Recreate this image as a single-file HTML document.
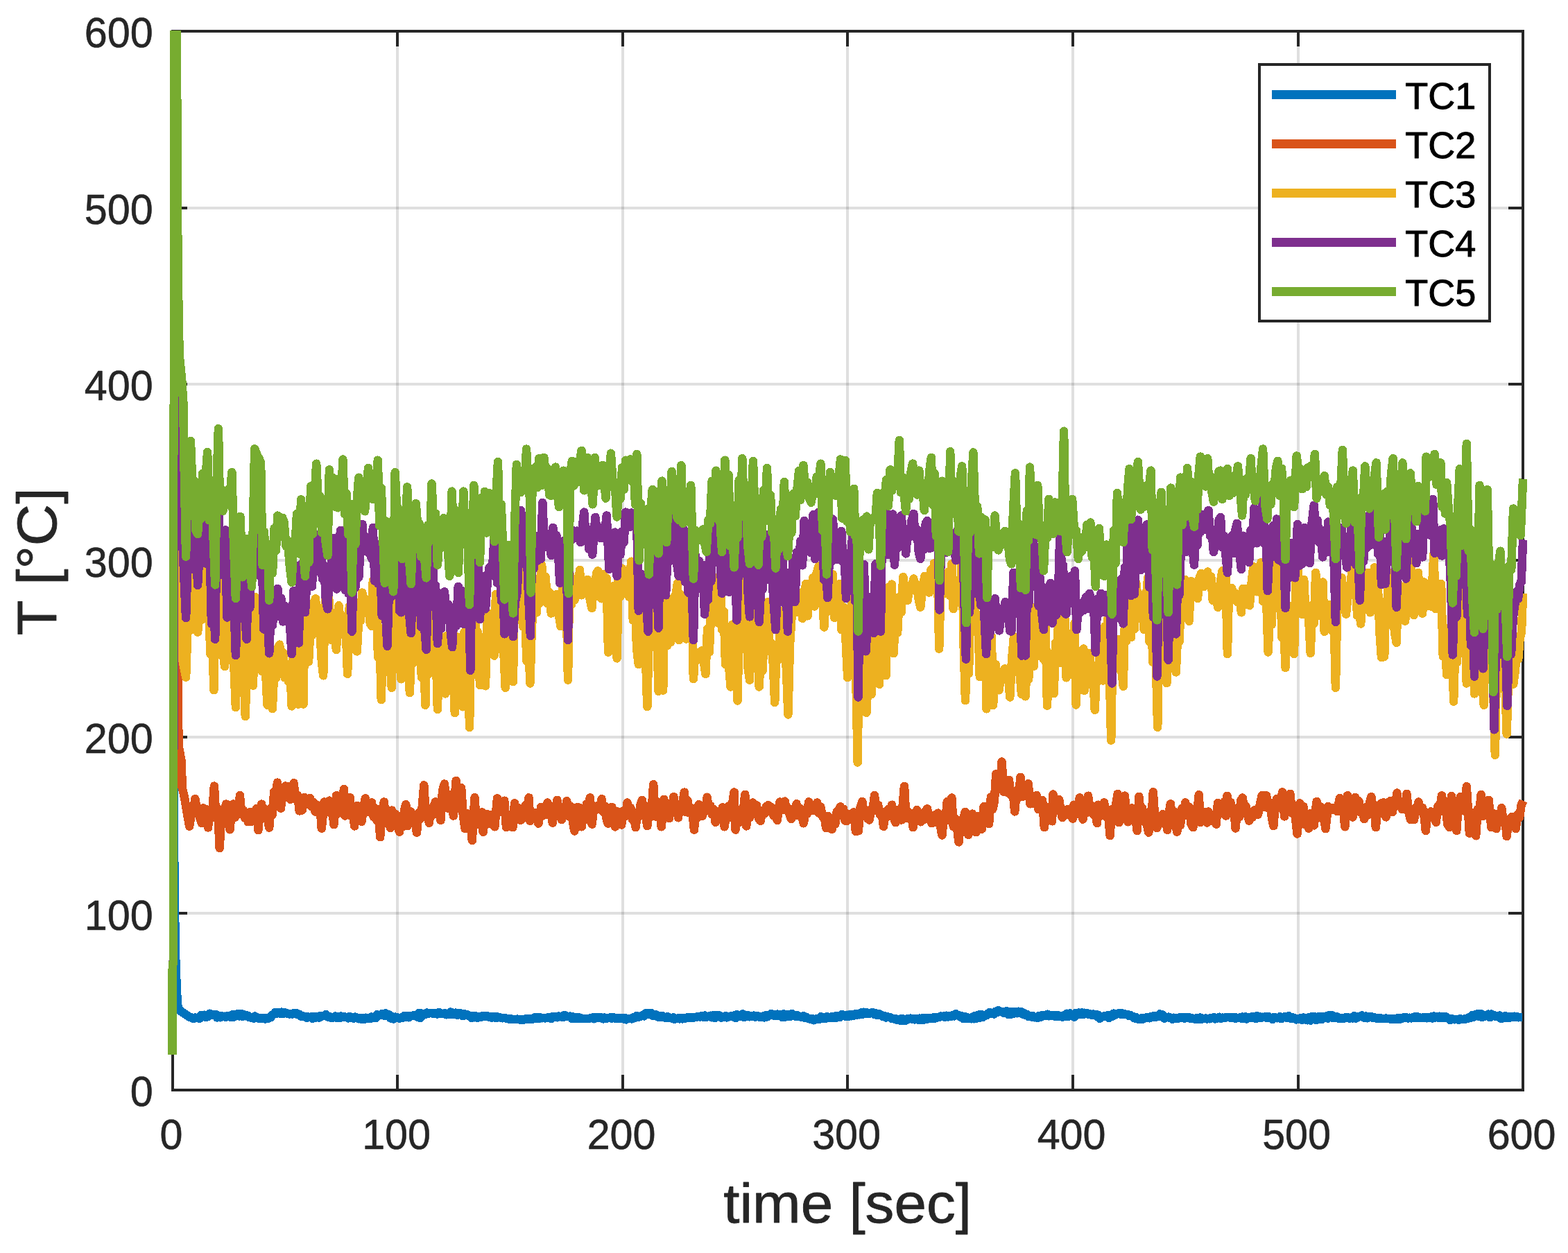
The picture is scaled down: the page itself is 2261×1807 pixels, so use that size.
<!DOCTYPE html>
<html lang="en">
<head>
<meta charset="utf-8">
<title>Thermocouple temperatures TC1-TC5 vs time</title>
<style>
html,body{margin:0;padding:0;background:#fff;}
body{width:2261px;height:1807px;overflow:hidden;}
svg{display:block;}
text{font-family:"Liberation Sans",Arial,Helvetica,sans-serif;}
.tk{font-size:61px;fill:#262626;stroke:#262626;stroke-width:0.6px;stroke-linejoin:round;}
.lb{font-size:80px;fill:#262626;stroke:#262626;stroke-width:0.8px;stroke-linejoin:round;}
.lg{font-size:54px;fill:#000;stroke:#000;stroke-width:1px;stroke-linejoin:round;}
.s{fill:none;stroke-width:12.5;stroke-linejoin:round;stroke-linecap:butt;shape-rendering:crispEdges;}
</style>
</head>
<body>
<svg width="2261" height="1807" viewBox="0 0 2261 1807">
<rect x="0" y="0" width="2261" height="1807" fill="#fff"/>

<g fill="rgba(38,38,38,0.15)" shape-rendering="crispEdges">
<rect x="571" y="47" width="4" height="1523"/>
<rect x="896" y="47" width="4" height="1523"/>
<rect x="1220" y="47" width="4" height="1523"/>
<rect x="1545" y="47" width="4" height="1523"/>
<rect x="1870" y="47" width="4" height="1523"/>
<rect x="251" y="1315" width="1943" height="4"/>
<rect x="251" y="1061" width="1943" height="4"/>
<rect x="251" y="806" width="1943" height="4"/>
<rect x="251" y="552" width="1943" height="4"/>
<rect x="251" y="298" width="1943" height="4"/>
</g>
<clipPath id="ax"><rect x="240" y="44" width="1964" height="1530"/></clipPath>
<g fill="#262626" shape-rendering="crispEdges">
<rect x="247" y="43" width="1951" height="4"/>
<rect x="247" y="1570" width="1951" height="4"/>
<rect x="247" y="43" width="4" height="1531"/>
<rect x="2194" y="43" width="4" height="1531"/>
<rect x="571" y="1550" width="4" height="20"/>
<rect x="571" y="47" width="4" height="20"/>
<rect x="896" y="1550" width="4" height="20"/>
<rect x="896" y="47" width="4" height="20"/>
<rect x="1220" y="1550" width="4" height="20"/>
<rect x="1220" y="47" width="4" height="20"/>
<rect x="1545" y="1550" width="4" height="20"/>
<rect x="1545" y="47" width="4" height="20"/>
<rect x="1870" y="1550" width="4" height="20"/>
<rect x="1870" y="47" width="4" height="20"/>
<rect x="251" y="1315" width="19" height="4"/>
<rect x="2175" y="1315" width="19" height="4"/>
<rect x="251" y="1061" width="19" height="4"/>
<rect x="2175" y="1061" width="19" height="4"/>
<rect x="251" y="806" width="19" height="4"/>
<rect x="2175" y="806" width="19" height="4"/>
<rect x="251" y="552" width="19" height="4"/>
<rect x="2175" y="552" width="19" height="4"/>
<rect x="251" y="298" width="19" height="4"/>
<rect x="2175" y="298" width="19" height="4"/>
</g>
<g clip-path="url(#ax)">
<path class="s" stroke="#0072bd" d="M248.6 1521 L248.7 1400 L250.3 1380 L250.3 1100 L250.4 1160 L251.1 1227 L251.9 1303 L252.8 1370 L253.6 1395 L254.6 1421 L255.5 1440 L256.5 1452 L260 1458 L266 1462 L272 1466 L277.7 1468.2 L279.4 1469.1 L281.2 1467.5 L282.9 1468 L285.3 1467.6 L287.8 1468.9 L290.3 1463.9 L292.2 1466.2 L294.5 1463.6 L296.8 1467.2 L298.5 1465.6 L300.5 1465.6 L302.6 1461.7 L304.9 1463.8 L307 1462.8 L308.9 1463.9 L311.2 1462.8 L312.9 1467.4 L315.1 1465.1 L317.4 1467.3 L319.4 1465.2 L321.5 1466.2 L323.7 1465.7 L325.6 1467 L327.3 1465.4 L329.1 1465.4 L331.1 1465.4 L333.2 1467.1 L335.6 1463 L337.6 1466.4 L339.4 1463.5 L341.5 1465.2 L343.2 1461.8 L345.3 1465.4 L347.5 1461.9 L349.2 1465.9 L351.6 1463.4 L353.6 1465.2 L355.3 1464.3 L357.3 1464.8 L359.1 1466.9 L361.3 1467.3 L363.2 1467.9 L365.8 1468.6 L367.5 1465.4 L369.4 1466.9 L371.9 1468 L373.6 1468.8 L376 1468.1 L378 1468.6 L380.1 1468.1 L382 1469.4 L384.4 1468 L386.7 1468.9 L388.7 1466.9 L390.6 1467 L392.6 1464 L395.1 1462.1 L396.9 1459.8 L399.4 1461.5 L401.6 1460.5 L404 1461.7 L406.1 1459.6 L408.1 1462 L410.1 1460.3 L412.4 1461 L414.8 1461.7 L417.3 1462.4 L419.5 1462 L421.7 1462.5 L423.7 1461 L425.6 1462.1 L427.5 1461.1 L429.5 1463.3 L431.5 1462.7 L433.9 1465.5 L436 1465 L437.7 1465.9 L440.1 1466 L442.4 1467.9 L444.5 1466.5 L446.3 1467 L448.6 1466.6 L450.9 1468.8 L453.1 1466 L455.4 1467.4 L457.4 1465.9 L459.9 1467.6 L462 1465.1 L463.8 1465.5 L465.5 1465.1 L467.9 1464.8 L470.1 1463.1 L472.6 1466.4 L474.6 1465.8 L477 1467.8 L479.1 1467.1 L481.4 1467.4 L483.5 1465.5 L485.7 1467.6 L488 1466.5 L489.7 1468.2 L491.5 1465.6 L493.9 1467.2 L496 1465.8 L498.3 1467 L500.5 1467.1 L502.2 1468.4 L504.2 1466.1 L506.1 1467.7 L508 1466.9 L509.8 1468.5 L512.2 1466.7 L514 1467.9 L515.7 1467.7 L517.5 1469.2 L519.3 1468 L521.4 1469.8 L523.5 1468 L525.5 1469.8 L527.7 1467.8 L529.4 1469 L531.3 1469.2 L533.7 1469.2 L535.6 1466.6 L537.4 1468 L539.9 1466.3 L541.8 1467.9 L543.7 1463.2 L545.8 1464.8 L547.5 1464.1 L549.2 1464.1 L551.1 1461.9 L553.4 1464.6 L555.8 1461.4 L558.3 1465.1 L560.6 1463.2 L563 1468.3 L565.3 1466.1 L567.5 1469.6 L569.8 1466.7 L572.1 1466.8 L573.9 1467.9 L576 1468.5 L578.3 1467.5 L580.6 1467.9 L582.8 1465.2 L584.7 1467 L587 1465.2 L589.5 1467.3 L591.6 1465.2 L593.8 1465 L595.7 1464.6 L597.8 1464.7 L600.1 1463.7 L602 1466.7 L604.1 1461.1 L605.9 1468.1 L607.6 1461.6 L610.1 1464.3 L612 1462.3 L613.8 1462.6 L615.6 1460.5 L618 1461.6 L620.1 1461.1 L622.1 1460.9 L624.1 1461.6 L626.5 1461.6 L628.7 1460.9 L630.7 1462.3 L632.9 1460 L634.8 1462.1 L636.7 1461.5 L638.8 1462.1 L641.3 1461.3 L643.5 1463.2 L645.7 1461.9 L647.7 1463 L649.7 1459.5 L651.4 1462.6 L653.4 1460.6 L655.3 1463 L657.4 1460.6 L659.3 1463.9 L661.1 1461.3 L663.2 1461.2 L665.2 1461.9 L667.3 1465.2 L669.3 1462.2 L671.3 1463.9 L673.8 1463.3 L676 1465.4 L677.9 1465.3 L680.4 1468.2 L682.1 1465.2 L684.5 1467.3 L686.2 1465.4 L688.6 1467.5 L690.5 1466.1 L692.7 1467.2 L695 1465.4 L697.1 1465.8 L699 1465.3 L700.9 1465.8 L703.1 1465.3 L705.3 1466.7 L707.1 1465.8 L709.2 1467.5 L711.6 1466 L714.1 1467.6 L715.8 1465.8 L717.8 1467.3 L720.3 1467 L722.3 1467.8 L724.6 1468.3 L726.6 1468.1 L728.9 1468.3 L731 1469.1 L733.2 1469.3 L735.1 1469.3 L736.8 1469.3 L739.2 1469.9 L741.7 1469.9 L744 1470 L746 1469.7 L747.8 1470.2 L749.8 1470.4 L751.6 1470.6 L754 1470.4 L756 1470.4 L758.4 1469.4 L760.8 1469.6 L762.5 1469.5 L764.8 1470.1 L766.8 1468.9 L768.7 1469.5 L770.6 1467.6 L773 1468.9 L774.7 1467.3 L777.2 1469 L779.1 1467.4 L781.6 1468.3 L783.9 1467.8 L786 1468.4 L788 1467.8 L790.3 1467.5 L792.5 1466.9 L794.9 1468.9 L796.7 1466 L798.9 1467.1 L801.1 1466.3 L803.5 1467.3 L805.5 1465.6 L807.8 1465.9 L809.6 1465.7 L811.5 1467.2 L813.6 1463.9 L815.8 1466.1 L818.2 1465.7 L819.9 1465.9 L822.4 1465.6 L824.4 1468.7 L826.3 1466.4 L828.1 1468.4 L830 1467.2 L831.8 1468.7 L833.7 1467 L835.9 1468.7 L837.8 1468.5 L839.5 1469.1 L841.7 1469.1 L843.9 1469.2 L845.9 1468.8 L848 1469 L850.4 1468.5 L852.3 1468.1 L854.7 1467.6 L856.7 1469.3 L858.6 1466.8 L860.8 1468.1 L862.8 1467.5 L864.9 1467.8 L867.2 1467.4 L869.7 1469.4 L871.4 1467.7 L873.9 1469 L875.7 1467.9 L878.1 1467.8 L880.1 1467.4 L881.9 1468.6 L884.3 1467 L886.6 1468.5 L888.4 1467.9 L890.6 1469.2 L892.8 1468 L894.8 1469.1 L896.9 1468 L899.3 1469.3 L901 1468.1 L902.8 1470.3 L904.5 1469.5 L906.8 1468.8 L908.8 1469 L911.4 1469.4 L913.2 1467.4 L915.7 1467.7 L918.1 1464.9 L920.5 1466.9 L922.4 1465.8 L924.8 1465.5 L926.9 1463.8 L928.7 1465.4 L931.2 1461.3 L933 1463.2 L934.9 1461.2 L937.1 1462.4 L939.3 1461.2 L941.2 1464.8 L943.2 1462.9 L945 1464.6 L946.9 1463.7 L949.1 1466.5 L950.8 1465.6 L952.8 1467 L954.6 1464.8 L956.3 1466.8 L958.1 1467.2 L960.2 1468 L962.3 1466.4 L964.2 1468.2 L966.6 1467.7 L968.5 1468.4 L970.7 1467.4 L972.7 1469.9 L974.6 1468.7 L976.6 1469.1 L978.3 1468.3 L980.1 1469.4 L982.2 1468.6 L984.1 1469.3 L985.8 1468.5 L988.1 1468.6 L990.4 1467.6 L992.4 1467.8 L994.1 1467.1 L996.4 1468.2 L998.3 1466.9 L1000.7 1467.5 L1002.9 1467 L1004.6 1466.8 L1007 1465.8 L1009.5 1466.5 L1011.7 1465 L1014.2 1466.5 L1016.4 1464.5 L1018.7 1466.7 L1020.6 1466.1 L1022.4 1466.2 L1024.4 1464.7 L1026.6 1467.3 L1028.9 1463.8 L1030.9 1467.9 L1033.3 1464.3 L1035.8 1466.1 L1037.6 1464.5 L1039.9 1467.8 L1042.1 1466 L1044.4 1466.8 L1046.5 1465.2 L1048.4 1467.4 L1050.3 1465.9 L1052.7 1465.8 L1054.8 1465 L1057.1 1466.4 L1058.8 1464.3 L1060.7 1468 L1062.3 1463.3 L1064.7 1466.2 L1066.7 1464.2 L1069.1 1465.6 L1071.2 1462.4 L1073 1467.2 L1075.3 1464 L1077.3 1465.9 L1079.1 1464.6 L1081 1466.2 L1083 1464.9 L1085.1 1465.5 L1087.3 1464.7 L1089.2 1466.5 L1091.5 1464.9 L1093.8 1466.3 L1096.2 1466.5 L1098.5 1466.6 L1100.4 1465.7 L1102.2 1467.5 L1104.5 1464.2 L1106.2 1466.4 L1108.6 1464.1 L1110.4 1463.8 L1112.4 1461.9 L1114.8 1464.3 L1117 1463.4 L1119 1465.3 L1121.1 1462.6 L1123.1 1465 L1125.5 1463.5 L1127.9 1467.2 L1130 1462.5 L1131.7 1467 L1134 1463.3 L1136 1466.1 L1138.1 1462.8 L1139.9 1465.6 L1141.9 1461.8 L1143.6 1463.9 L1146.1 1464 L1148.2 1466 L1150.4 1464.4 L1152.5 1465.6 L1154.5 1466.4 L1156.5 1466.5 L1158.5 1465.3 L1160.5 1468 L1162.4 1466.7 L1164.9 1468.5 L1166.9 1469.1 L1169.2 1470.1 L1171.4 1469.3 L1173.4 1471.2 L1175.7 1469.7 L1177.9 1470.2 L1179.9 1468.9 L1181.9 1469.6 L1183.7 1466.2 L1185.6 1469.1 L1187.7 1466.9 L1189.9 1468.9 L1192.3 1466.2 L1194.8 1468.1 L1197 1468 L1199.2 1466.5 L1201.1 1466.1 L1202.9 1468.2 L1204.7 1465.4 L1207 1467.2 L1209.4 1465.4 L1211.5 1466.8 L1213.9 1463.1 L1215.8 1465 L1217.5 1464.4 L1219.6 1465.7 L1221.3 1463.7 L1223.5 1465.7 L1225.5 1463 L1227.2 1465.3 L1228.9 1463.3 L1231.4 1464.4 L1233.5 1462.4 L1235.2 1464.3 L1237.2 1462.2 L1239.2 1463.3 L1241.1 1460.7 L1243.2 1463.2 L1245.6 1459.7 L1247.5 1462 L1249.8 1460.4 L1251.7 1461.8 L1253.9 1461.5 L1256.3 1461 L1258 1460 L1260.2 1462.5 L1262.7 1461.3 L1264.9 1463.8 L1267.1 1462 L1269.2 1463.6 L1270.9 1464.1 L1273.1 1466.2 L1275.5 1465.1 L1277.4 1467.6 L1279.4 1466.2 L1281.2 1466.9 L1283.5 1467 L1285.6 1468.7 L1287.8 1468.7 L1289.8 1469.7 L1291.7 1469.1 L1294 1470.9 L1295.7 1470 L1298 1471.6 L1299.8 1469 L1302.1 1472 L1303.9 1469.7 L1305.9 1471.5 L1308.4 1469.4 L1310.6 1469.5 L1312.9 1468.7 L1315 1469.6 L1317.2 1468.8 L1319 1470.3 L1321.2 1468.9 L1323.2 1470.4 L1325.6 1468.8 L1327.3 1470.7 L1329.7 1468.4 L1332.2 1470.6 L1334.1 1468.3 L1336.1 1469.9 L1338.5 1468.3 L1340.2 1468.9 L1342.4 1467.9 L1344.1 1469.1 L1346.5 1467.2 L1348.9 1468.4 L1351.4 1467.2 L1353.7 1467.2 L1356.2 1465.6 L1358.4 1465.9 L1360.7 1465.5 L1362.5 1466.6 L1364.4 1464.8 L1366.8 1466.3 L1369 1464.8 L1371.2 1466.1 L1373.2 1464.2 L1375.8 1465.3 L1378.1 1462.2 L1380.1 1463.6 L1382.6 1464.2 L1384.7 1466.5 L1386.8 1465.4 L1389.1 1469 L1390.9 1466 L1392.6 1468.5 L1394.6 1467.3 L1396.4 1469.1 L1398.2 1468.2 L1400.3 1469.2 L1402.6 1466.5 L1404.4 1469.3 L1406.2 1464.9 L1408.2 1468.7 L1410.6 1463.7 L1412.9 1467.5 L1414.6 1462.8 L1417.1 1467 L1419.2 1463.9 L1421.1 1464.7 L1423 1464 L1424.7 1461.9 L1427.1 1459.9 L1429.5 1461.8 L1431.3 1460.9 L1433.5 1462.5 L1435.9 1458.6 L1437.7 1460.2 L1439.8 1457.2 L1441.7 1458.7 L1444.1 1459 L1446 1460.3 L1447.8 1459 L1449.6 1461.2 L1451.5 1458 L1454 1462.9 L1455.8 1459.1 L1457.5 1462.7 L1460 1459.2 L1462 1461.7 L1464.1 1459.2 L1466.6 1461.3 L1468.4 1458.8 L1470.6 1459.7 L1472.8 1459.4 L1474.7 1462.6 L1477 1461.4 L1479.3 1463.9 L1481.1 1463.1 L1483.5 1466.2 L1485.1 1464.9 L1487.6 1466.6 L1489.5 1465.4 L1491.7 1467.3 L1493.8 1467.1 L1496.1 1467.8 L1498.4 1464.8 L1500.2 1467.1 L1502.2 1464.4 L1504.4 1465.1 L1506.2 1464.2 L1508.6 1464.4 L1510.5 1462.6 L1512.6 1465.1 L1514.4 1464.1 L1516.1 1464.7 L1518.2 1464.5 L1520 1465.4 L1521.8 1464.3 L1523.6 1465.8 L1525.6 1464.4 L1527.8 1465.6 L1530.1 1464.8 L1532.1 1466.6 L1534.6 1464 L1536.3 1466 L1538.8 1461.7 L1541 1465.6 L1542.7 1461.4 L1544.4 1464.8 L1546.7 1462.8 L1549.1 1466.6 L1550.8 1461.1 L1553.1 1463.1 L1555.5 1460.5 L1557.6 1462.7 L1559.6 1460.4 L1561.3 1463.2 L1563.5 1460.8 L1565.6 1461.8 L1567.5 1461.4 L1569.4 1462.7 L1571.8 1462.1 L1574 1463.5 L1576.1 1462.6 L1578.1 1463.5 L1580.3 1462.9 L1581.9 1465.9 L1583.8 1463.7 L1585.7 1468.9 L1588.1 1467 L1590.1 1466.4 L1592.2 1465.1 L1594.7 1465.4 L1596.6 1464.5 L1599 1468.2 L1601.3 1463.8 L1603.4 1466 L1605.9 1461.6 L1607.5 1464 L1609.6 1461.8 L1611.7 1462.2 L1613.9 1461.1 L1615.9 1462.5 L1617.9 1461.5 L1619.9 1462.9 L1622 1462.2 L1623.8 1463.1 L1625.5 1462.8 L1627.9 1464.9 L1629.8 1463.9 L1631.5 1465.4 L1633.6 1465.9 L1635.7 1468.3 L1637.8 1467.1 L1639.8 1469.4 L1642.3 1468.8 L1644 1470.1 L1646.2 1468.2 L1648.7 1469.4 L1650.9 1467.9 L1653 1467.5 L1655.5 1466.8 L1657.3 1468.4 L1659.6 1466.3 L1661.7 1466.7 L1663.8 1465.3 L1666 1467.1 L1668.5 1465 L1670.9 1465.9 L1672.5 1462.4 L1674.7 1465.1 L1676.9 1463.6 L1679 1468.7 L1681 1467.2 L1682.8 1467.1 L1685.2 1466.7 L1686.9 1468.3 L1688.8 1468 L1690.7 1469.6 L1692.8 1467.8 L1694.8 1468.9 L1697 1468.2 L1699.2 1468.6 L1701.6 1467.1 L1704 1467.9 L1706.4 1467.2 L1708.3 1468.5 L1710.2 1467.3 L1712.3 1468 L1714.3 1467.3 L1716.2 1468.8 L1718.2 1468.4 L1720.6 1468.7 L1722.5 1469.6 L1724.5 1469.7 L1726.2 1467.8 L1728 1470.1 L1730.4 1467.5 L1732.6 1469.9 L1734.5 1468.7 L1736.4 1469.2 L1738.3 1468.5 L1740.3 1469.4 L1742.1 1468.8 L1744.3 1469.3 L1746.3 1467.9 L1748.2 1468.1 L1750.6 1467.2 L1752.4 1469.4 L1754.5 1467.9 L1756.3 1468.4 L1758.2 1466.9 L1760.6 1468.9 L1762.4 1467.7 L1764.6 1467.8 L1766.8 1467.7 L1768.8 1467.1 L1771.3 1467.1 L1773 1467.3 L1774.9 1467.4 L1777.1 1468 L1779.3 1467.3 L1781.3 1468.8 L1783 1467.6 L1784.9 1468.2 L1787.1 1467.6 L1789.5 1468.4 L1791.8 1466.5 L1793.8 1469.2 L1795.7 1466.3 L1797.7 1469.5 L1800 1467.3 L1802.1 1468 L1804.1 1466.7 L1805.9 1468 L1808.3 1466 L1810.8 1469 L1812.7 1465.3 L1814.7 1468 L1816.5 1466.4 L1818.4 1467.9 L1820.4 1466.7 L1822.4 1467.1 L1824.3 1466.2 L1826.6 1467.8 L1828.8 1466.1 L1831.2 1468.3 L1833.2 1467.8 L1835 1469.9 L1836.8 1467.1 L1838.8 1467.5 L1841.3 1468.3 L1843.8 1467.8 L1845.8 1466.2 L1847.5 1469.2 L1849.7 1467.1 L1851.6 1466.5 L1854 1466.6 L1855.8 1468.1 L1858.3 1465.2 L1860.6 1468.4 L1862.5 1466.9 L1864.5 1468.9 L1866.8 1468.3 L1869 1470.3 L1871.5 1468.9 L1873.6 1470.1 L1875.8 1468.1 L1877.6 1471 L1879.3 1467.5 L1881.2 1470.3 L1883.6 1468.6 L1885.5 1471.3 L1887.5 1467 L1889.8 1471.6 L1891.6 1466.3 L1893.7 1467.5 L1895.7 1466.4 L1898.1 1471.2 L1900.6 1466.5 L1902.3 1470.2 L1904.3 1466.1 L1906.4 1469.7 L1908.3 1466.5 L1910.6 1467.5 L1912.6 1465.4 L1914.7 1468.6 L1916.5 1464 L1918.6 1467 L1920.5 1464.1 L1922.4 1468.2 L1924.3 1467.1 L1926.4 1467.6 L1928.2 1466.4 L1930.3 1468.8 L1932.1 1467.8 L1933.9 1469 L1935.7 1468.3 L1938 1468.5 L1939.7 1467.6 L1941.4 1467.9 L1943.7 1467.1 L1945.9 1468.7 L1948.4 1467.6 L1950.3 1468.4 L1952.7 1465.1 L1955 1468.6 L1956.7 1466.4 L1959.1 1466.6 L1961.3 1465.7 L1963.7 1464.5 L1965.5 1465.7 L1967.4 1467.8 L1969.2 1465.5 L1971.5 1468.3 L1973.2 1466.6 L1975.6 1466.4 L1977.9 1466.5 L1980 1467.9 L1982 1467.5 L1983.8 1468.4 L1985.9 1468.2 L1988 1469.1 L1990 1468 L1992 1468.9 L1994.5 1469 L1996.4 1469.2 L1998.3 1468.6 L2000.8 1469.1 L2003.1 1469 L2005.3 1469.8 L2007.2 1469.1 L2009.7 1470 L2012 1469.1 L2014.2 1469.6 L2016.2 1467.9 L2018.2 1470.1 L2020.2 1468.5 L2022 1468.7 L2024 1467.4 L2026 1467.9 L2027.9 1467.4 L2030.4 1468.5 L2032.5 1467.7 L2035.1 1468.3 L2037.1 1467.4 L2039.5 1468.1 L2041.2 1465.8 L2043.5 1468.1 L2045.3 1466.7 L2047.6 1468.1 L2050.1 1468.1 L2052.5 1467.3 L2054.6 1467.4 L2057.1 1468.3 L2059.4 1467 L2061.6 1467.5 L2063.3 1466.7 L2065.4 1468.5 L2067.5 1465.5 L2069.7 1467.3 L2071.9 1466.5 L2073.7 1467.4 L2075.8 1465.9 L2077.9 1468.1 L2079.9 1466 L2082.2 1468.1 L2084.1 1465.8 L2086.2 1467.5 L2088.6 1468.5 L2090.9 1470.9 L2093.4 1469.2 L2095.1 1469.6 L2097.2 1470.3 L2099.2 1470.1 L2101.7 1470.1 L2103.6 1470.7 L2105.8 1469.2 L2107.8 1470.1 L2109.6 1469.8 L2111.6 1469.7 L2113.7 1469.4 L2115.9 1468.9 L2117.8 1467.5 L2120.1 1467.9 L2122.6 1464.2 L2124.4 1466.9 L2126.3 1463.5 L2128.2 1465.3 L2130.7 1462 L2132.8 1465.8 L2135.3 1461.9 L2137.2 1466.9 L2139.1 1463.7 L2141 1465.6 L2142.7 1465.1 L2144.5 1465.3 L2146.2 1462.6 L2148.5 1467.2 L2150.2 1462.6 L2152.5 1465.2 L2154.3 1463.9 L2156.8 1466 L2158.6 1465.1 L2160.5 1466.3 L2162.6 1464.5 L2164.7 1469.2 L2166.5 1467 L2168.8 1466.8 L2170.5 1465.3 L2172.6 1468.1 L2174.3 1466.3 L2176.4 1467.8 L2178.9 1466.4 L2180.9 1467.2 L2183.4 1465.7 L2185.4 1466.8 L2187.1 1465.9 L2189 1467.3 L2190.9 1467.1 L2193.2 1467.2 L2195.2 1467.2"/>
<path class="s" stroke="#d95319" d="M248.5 1521 L248.6 1400 L250.2 1380 L250.4 600 L251.6 550 L251.7 -40 L253.5 0 L255 600 L256.6 985 L257.5 1075 L262 1100 L262.5 1135 L266 1150 L273.1 1191.7 L275.9 1174.3 L278.6 1171.1 L281.4 1152.2 L283.7 1166.4 L286 1167.3 L288.4 1180.4 L290.7 1187 L293 1165.4 L295.4 1183.8 L297.7 1167.4 L300 1193.5 L302.2 1169.4 L304.4 1175.3 L306.7 1164.7 L308.9 1133.6 L311.5 1180 L314.1 1166.1 L316.7 1223.2 L319 1175.4 L321.4 1185.9 L323.7 1170.3 L326 1159.6 L328.8 1185.9 L331.6 1196.3 L333.9 1166.3 L336.2 1159.6 L338.6 1178.8 L341 1164.4 L343.5 1174.2 L345.9 1147.2 L348.2 1172.5 L350.6 1168.3 L352.9 1179.4 L355.3 1172.6 L357.6 1185.2 L360.1 1171.3 L362.5 1184.9 L365 1170.8 L367.5 1183 L369.9 1166 L372.4 1197.2 L374.8 1168.3 L377.1 1159.6 L379.9 1178.9 L382.6 1167.1 L385.4 1178 L388.2 1193.5 L390.5 1165.8 L392.9 1174.4 L395.2 1141.9 L397.6 1161.2 L399.9 1128.6 L402.4 1156.5 L404.9 1165.7 L407.1 1145.9 L409.2 1148.4 L411.4 1133.6 L413.8 1149.6 L416.2 1133.9 L418.7 1152.7 L421.1 1137.6 L423.5 1129.3 L426.3 1152.4 L429 1146.5 L431.8 1169.4 L435.9 1168.2 L438.7 1150.1 L441.5 1160.2 L444.3 1154.7 L447.1 1151 L449.5 1163.3 L451.9 1157 L454.3 1170.4 L456.6 1160.7 L459 1171.1 L461.4 1162.2 L463.8 1194.7 L467.5 1156.5 L470 1167.5 L472.4 1162.1 L474.9 1154.7 L477.1 1173.3 L479.2 1166.9 L481.4 1189.1 L485.1 1147.3 L487.8 1172.6 L490.5 1155.3 L493.2 1168 L495.9 1138 L497.2 1176.5 L499.7 1160.7 L502.1 1168.5 L504.6 1150.1 L506.8 1177.1 L508.9 1168.2 L511.1 1191.4 L514.8 1162.1 L517 1175.5 L519.1 1168 L521.3 1184.9 L524 1165.9 L526.8 1151.4 L529.1 1170.3 L531.5 1161.7 L533.8 1171.5 L536.1 1157.5 L538.5 1177.9 L540.9 1165.9 L543.4 1183.6 L545.8 1173.6 L548.2 1207.1 L551 1170.4 L553.7 1156.5 L556 1177 L558.4 1169.3 L560.7 1187.1 L563 1194.1 L564.9 1168.6 L567.7 1184.4 L570.5 1174.3 L573.2 1191.8 L576 1199.7 L578.3 1182.9 L580.6 1192.2 L583 1168.4 L585.3 1160.3 L587.8 1190.8 L590.2 1174.8 L592.7 1170.5 L595.5 1186.3 L598.2 1182.4 L601 1200.6 L603.6 1172.4 L606.1 1180.7 L608.7 1164.4 L611.3 1132.4 L613.8 1176.1 L616.2 1164.9 L618.7 1186.7 L621 1170.7 L623.3 1175.6 L625.6 1162.3 L627.9 1156.5 L630.4 1172.4 L632.9 1169 L635.4 1183 L638.1 1139.8 L640.9 1130.6 L643.2 1155.3 L645.6 1165.4 L648.4 1146.2 L651.1 1158.6 L653.9 1176.5 L657.6 1125.9 L660.1 1153.3 L662.6 1143.2 L665.1 1136.1 L667.9 1176.3 L670.6 1195.1 L673.1 1173 L675.7 1185.6 L678.2 1179.9 L680.8 1211.8 L684.5 1150.1 L687 1189 L689.6 1172.5 L692.2 1187.7 L694.7 1171.4 L696.6 1199.7 L699.4 1178.3 L702.2 1174.2 L705 1187.8 L707.8 1175.2 L710.5 1185.6 L713.3 1192.3 L717 1151.4 L719.5 1170.6 L722.1 1162 L724.7 1171.5 L727.2 1154.7 L730 1193.2 L732.3 1174.5 L734.6 1190.1 L737 1179.3 L739.3 1193.2 L742.1 1158.4 L744.9 1175.4 L747.6 1165.1 L750.4 1183 L752.8 1168.3 L755.2 1179.5 L757.7 1161.3 L760.1 1168.4 L762.5 1150.4 L764.3 1183.9 L766.7 1171 L769.1 1179.9 L771.6 1172.7 L774 1182.1 L776.4 1187.6 L780.1 1164 L782.4 1176.4 L784.8 1165.6 L787.1 1174.9 L789.4 1157.5 L791.9 1171.9 L794.3 1167.4 L796.8 1186.7 L799 1169.8 L801.1 1170.7 L803.3 1153.8 L805.5 1173.5 L807.6 1168.7 L809.8 1182.1 L812.3 1163.6 L814.7 1171.5 L817.2 1155.2 L820 1177.1 L822.8 1162.9 L825.5 1181.7 L828.3 1198.4 L832.4 1164 L835.9 1164.9 L838.7 1192.3 L841.1 1170.3 L843.5 1182.5 L846 1159.2 L848.4 1171 L850.8 1150.4 L853.6 1188.6 L856.4 1163.6 L859.2 1166.8 L861.9 1161.8 L864.7 1167.2 L867.5 1152.3 L869.8 1170.8 L872.1 1162.4 L874.4 1180.2 L876.7 1187.6 L879.5 1172.4 L882.3 1164 L884.6 1183.2 L886.9 1192.3 L889.2 1169.9 L891.5 1184.6 L893.9 1174.9 L896.2 1189.5 L899 1169.5 L901.8 1177.1 L904.6 1157.5 L907 1175.6 L909.4 1165.2 L911.8 1181.6 L914.2 1178.4 L916.6 1193.2 L918.9 1173.9 L921.2 1178.1 L923.6 1160.4 L925.9 1153.8 L928.4 1171.4 L930.8 1173.1 L933.3 1191 L935.5 1163.3 L937.8 1178 L940 1163.8 L942.2 1131.1 L944.5 1177.4 L946.8 1155.8 L949.1 1178.4 L951.4 1169 L953.7 1192.3 L957.4 1152.8 L959.9 1170.2 L962.4 1164 L964.9 1180.2 L967.1 1165 L969.2 1164.7 L971.4 1149.1 L973.6 1163.7 L975.7 1159.6 L977.9 1179.3 L980.1 1160.8 L982.3 1167 L984.6 1155.9 L986.8 1142.6 L989.2 1171 L991.5 1154.8 L993.9 1172.4 L996.3 1164.9 L998.6 1173.7 L1001 1196.6 L1003.2 1167.1 L1005.3 1179.5 L1007.5 1160.3 L1010.3 1170.2 L1013.1 1176.5 L1015.3 1164.8 L1017.4 1166.8 L1019.6 1149.7 L1022 1167.7 L1024.4 1161.8 L1026.9 1174.7 L1029.3 1167.2 L1031.7 1185.8 L1034.2 1171.6 L1036.8 1181.2 L1039.4 1170.3 L1041.9 1164.5 L1044.6 1192.3 L1046.9 1174.4 L1049.3 1180 L1051.6 1162 L1053.9 1173.4 L1056.3 1156.9 L1058.6 1142.6 L1060.4 1196.6 L1062.7 1176.2 L1065 1186.8 L1067.3 1169.1 L1069.7 1178.9 L1072 1166.9 L1074.3 1146 L1076.2 1191.4 L1078.5 1175.8 L1080.8 1179.6 L1083.2 1162.5 L1085.5 1157.5 L1088.3 1170 L1091 1161.2 L1093.8 1180.2 L1096.6 1183.9 L1099.4 1169.7 L1102.2 1173.6 L1104.9 1163.2 L1107.7 1161.2 L1110.3 1170.4 L1112.9 1164.5 L1115.5 1176.3 L1118.1 1169.5 L1120.7 1183 L1124.4 1156.5 L1126.9 1168 L1129.3 1158.9 L1131.8 1155.6 L1134.1 1168.8 L1136.4 1165.8 L1138.8 1175.7 L1141.1 1181.2 L1143.6 1167.3 L1146 1175.8 L1148.5 1159.3 L1151 1176 L1153.6 1165.8 L1156.2 1176 L1158.7 1187.3 L1161.2 1173.2 L1163.7 1173.7 L1166.2 1156.5 L1168.4 1166.6 L1170.5 1161.5 L1172.7 1169.1 L1175.5 1161.8 L1178.2 1157.5 L1180.8 1172.5 L1183.4 1163.8 L1186 1177.6 L1188.6 1176.7 L1191.2 1194.1 L1194 1177 L1196.8 1187 L1199.6 1196 L1202 1180.8 L1204.4 1188.3 L1206.8 1170 L1209.2 1174.2 L1211.6 1163.4 L1213.9 1174.5 L1216.2 1166.7 L1218.6 1183.4 L1220.9 1183.9 L1223.5 1174.3 L1226 1181.2 L1228.5 1174.6 L1231.1 1171.4 L1233.9 1198.8 L1237.8 1198.3 L1240.5 1164.9 L1243.3 1156 L1245.9 1173.2 L1248.4 1169.2 L1251 1180.3 L1253.6 1182.5 L1256.1 1167 L1258.5 1168.6 L1261 1147.1 L1263.6 1169.2 L1266.2 1160.9 L1268.8 1174.8 L1271.4 1170.5 L1274 1191.8 L1276.4 1175.5 L1278.8 1178.4 L1281.2 1166.6 L1283.6 1174.8 L1286 1160.7 L1288.8 1179.7 L1291.6 1186.2 L1294.4 1168.6 L1297.1 1182.1 L1299.9 1182.5 L1304 1133.8 L1306.5 1179.9 L1309 1170.4 L1311.6 1179.2 L1314.1 1172.8 L1316.6 1193.2 L1319.4 1175.6 L1322.2 1168.1 L1325 1179.8 L1327.8 1185.3 L1330.1 1172.8 L1332.4 1181.8 L1334.7 1169.6 L1337 1166.2 L1339.2 1179.7 L1341.3 1176.4 L1343.5 1187.1 L1345.8 1176.5 L1348.2 1186.1 L1350.5 1174.1 L1352.8 1172.7 L1355.6 1189.3 L1358.4 1204.4 L1360.9 1180.7 L1363.3 1182.7 L1365.8 1156 L1368 1183 L1370.1 1175.8 L1372.3 1150.5 L1374.8 1192.3 L1377.4 1180.9 L1380 1193 L1382.5 1214.4 L1384.8 1188.7 L1387.2 1193.6 L1389.5 1179 L1391.8 1170.9 L1394.1 1190.9 L1396.4 1203.8 L1399.2 1185.4 L1402 1173.7 L1404.8 1192.5 L1407.5 1200.1 L1410.3 1177 L1413.1 1190.2 L1415.9 1195.5 L1418.7 1163.1 L1421.2 1175 L1423.6 1175.2 L1426.1 1188.1 L1428.9 1149.5 L1431.4 1166.8 L1433.8 1156.3 L1436.3 1116.1 L1438.6 1119.4 L1440.9 1124.7 L1443.2 1127.8 L1444.6 1098.5 L1447.2 1141.9 L1449.8 1132 L1452.3 1142.7 L1454.9 1124.9 L1457.7 1146.4 L1460.4 1140.7 L1463.2 1170.4 L1466 1140.1 L1468.7 1150.2 L1471.5 1120.8 L1474.3 1149.1 L1477.1 1135.2 L1479.9 1141.3 L1482.7 1130.1 L1485.5 1159.3 L1487.8 1150.4 L1490.1 1158.5 L1492.4 1149.2 L1494.7 1146.8 L1497.5 1167.2 L1500.3 1157.9 L1503.1 1154.2 L1505.9 1193.2 L1508.7 1164.1 L1511.5 1174.5 L1514.2 1166.3 L1517 1184.3 L1518.5 1145.5 L1521.4 1165.4 L1524.3 1154.8 L1527.2 1153.2 L1529.5 1169.2 L1531.8 1179.1 L1534.3 1169.4 L1536.8 1174.9 L1539.3 1167.2 L1541.8 1175.6 L1544.2 1169.2 L1546.7 1180.6 L1548.5 1160.7 L1551.3 1174.4 L1554.1 1163.8 L1556.9 1150.5 L1559.2 1171.2 L1561.5 1181.6 L1564 1163 L1566.5 1172.4 L1569 1147.7 L1571.6 1168.5 L1574.2 1161.7 L1576.7 1174.6 L1579.3 1171.7 L1581.9 1187.1 L1583.8 1160.7 L1586.6 1176.7 L1589.3 1168 L1592.1 1157.5 L1594.9 1178 L1597.7 1168 L1600.5 1205.1 L1603.3 1167.1 L1606 1181.1 L1608.8 1162.9 L1611.6 1144.9 L1613.5 1186.2 L1616.3 1167.7 L1619 1168.5 L1621.8 1147.7 L1624.2 1169.6 L1626.5 1185.3 L1629.2 1168 L1632 1165.3 L1634.5 1183.1 L1637.1 1177 L1639.6 1197.9 L1642.4 1148.8 L1644.7 1173.8 L1647 1165 L1649.3 1184.6 L1651.7 1175.2 L1654 1189 L1656.3 1200.6 L1658.5 1170 L1660.6 1176.6 L1662.8 1142.3 L1665.6 1184.9 L1668.4 1194.1 L1671.2 1183.2 L1673.9 1187.2 L1676.7 1174.2 L1678.9 1187.4 L1681 1179.7 L1683.2 1196.9 L1685.6 1171.8 L1687.9 1159.3 L1690.2 1181.5 L1692.6 1170.2 L1694.9 1187.6 L1697.2 1199.7 L1699.6 1181 L1702 1190.2 L1704.4 1165.5 L1706.8 1175.2 L1709.2 1157.5 L1712 1176.1 L1714.8 1164 L1717.5 1188.6 L1720.3 1193.2 L1723.1 1166.6 L1725.9 1176.4 L1728.7 1146.3 L1731 1185.9 L1733.3 1171.8 L1735.7 1182.4 L1738 1171.4 L1740.3 1186.5 L1742.6 1170.5 L1745.4 1183.6 L1748.2 1176.1 L1750.9 1182.6 L1753.7 1188.6 L1756 1158.2 L1758.4 1173.7 L1760.7 1161.7 L1763 1171.2 L1765.4 1156.3 L1767.7 1176.5 L1769.5 1147.8 L1771.9 1168.7 L1774.3 1156.8 L1776.8 1173.4 L1779.2 1166.6 L1781.6 1194.5 L1784.1 1165.6 L1786.7 1178.4 L1789.2 1154.8 L1791.8 1150.6 L1794.1 1169 L1796.4 1162.6 L1798.7 1173.4 L1801 1183.6 L1803.5 1172.5 L1806 1178.8 L1808.5 1168.6 L1811.2 1173.5 L1814 1174.7 L1816.8 1160.4 L1819.6 1147.3 L1821.8 1164 L1823.9 1147.5 L1826.1 1147.3 L1828.6 1165.5 L1831.2 1157.8 L1833.8 1178.4 L1836.3 1191 L1838.6 1165.4 L1840.9 1151.9 L1843.7 1164.8 L1846.5 1155.3 L1849.3 1142.3 L1852.1 1177.4 L1854.9 1156.8 L1857.6 1162.2 L1860.4 1144.9 L1863 1172.7 L1865.5 1161.5 L1868 1179.8 L1870.6 1202.5 L1874.3 1158.4 L1876.9 1175 L1879.5 1163.3 L1882.1 1189.1 L1884.7 1178.3 L1887.3 1194.7 L1889.8 1172.8 L1892.2 1188.4 L1894.7 1190.4 L1898.5 1156 L1901.1 1172.5 L1903.7 1163.1 L1906.2 1180.4 L1908.8 1176 L1911.4 1195.1 L1915.1 1163 L1917.7 1167.9 L1920.3 1165.1 L1922.9 1168.2 L1925.5 1165 L1928.1 1170 L1931.8 1151 L1934.3 1170.9 L1936.8 1164.3 L1939.3 1192.3 L1943 1147.3 L1945.5 1164 L1947.9 1160.9 L1950.4 1178.4 L1954.1 1150.1 L1956.7 1166.1 L1959.3 1155.3 L1961.9 1171.5 L1964.5 1165.5 L1967.1 1181.2 L1969.6 1164.1 L1972.2 1175.4 L1974.8 1158.2 L1977.3 1149.1 L1979.5 1168 L1981.6 1160.6 L1983.8 1193.2 L1986.6 1165.4 L1989.3 1172.9 L1992.1 1158.3 L1994.9 1157.5 L1998.6 1178.4 L2000.9 1157.5 L2003.2 1169.4 L2005.6 1154.8 L2007.9 1170.9 L2010.1 1158 L2012.2 1161.6 L2014.4 1143.6 L2016.9 1161.8 L2019.3 1155.5 L2021.8 1167.2 L2024 1160.8 L2026.1 1165.7 L2028.3 1144.9 L2031.1 1170.2 L2033.9 1182.1 L2036.5 1170.9 L2039.1 1182.1 L2041.3 1164.9 L2043.4 1170 L2045.6 1156.5 L2048.2 1169.7 L2050.7 1164.5 L2053.2 1172.8 L2055.8 1197.9 L2058.3 1173.5 L2060.7 1178 L2063.2 1170.5 L2065.7 1179.4 L2068.1 1173.7 L2070.6 1185.8 L2073.4 1162.6 L2076.2 1166.4 L2079 1147.3 L2081.8 1170.7 L2084.6 1163.3 L2087.3 1188.8 L2090.1 1193.2 L2092.9 1148.2 L2095.4 1175.9 L2097.8 1171.2 L2100.3 1197.9 L2103.1 1157.7 L2105.9 1149.1 L2108.1 1169.2 L2110.4 1158 L2112.6 1170 L2114.8 1134.3 L2118.9 1201.6 L2121.2 1171.7 L2123.6 1191.6 L2125.9 1179.7 L2128.2 1205.3 L2130.7 1167 L2133.1 1174.5 L2135.6 1146 L2138.4 1176.9 L2141.1 1163.9 L2143.9 1173.7 L2146.7 1153.8 L2150.4 1193.2 L2152.9 1172.7 L2155.3 1191.1 L2157.8 1195.1 L2160.3 1175.7 L2162.8 1179.6 L2165.3 1165.3 L2167.8 1186.2 L2170.2 1181.2 L2172.7 1206.2 L2175.2 1183.6 L2177.6 1186.8 L2180.1 1177.9 L2182.9 1186.6 L2185.7 1195.1 L2188.4 1174.5 L2191.1 1178.9 L2193.7 1160.9 L2196.4 1154.9"/>
<path class="s" stroke="#edb120" d="M248.5 1521 L248.6 1400 L250.2 1380 L250.4 600 L251.6 550 L251.7 -50 L253.8 0 L255.3 500 L257 700 L259.5 850 L263 950 L268.1 976.7 L271 889.7 L273.9 909.3 L276.8 815.5 L279.6 875.9 L282.3 854.9 L285.1 911.7 L287.8 873.2 L290.5 893.9 L293.2 847.9 L295.9 822 L298.4 887.5 L300.9 863.9 L303.4 943.6 L305.9 911.5 L308.4 995.2 L310.6 881 L312.7 905.1 L314.9 734.2 L317.2 893.4 L319.5 868.1 L321.8 942.6 L324.1 960.9 L326.9 914.5 L329.7 899.1 L332.2 950 L334.8 930.4 L337.3 958.2 L339.9 1020.3 L342.1 928.9 L344.2 955.5 L346.4 860.9 L348.9 943.3 L351.3 930 L353.8 1033.3 L356.6 918.4 L359.4 968.8 L362.2 906.7 L365 988.7 L367.6 860.8 L370.2 925.7 L372.8 900.4 L375.4 936.3 L378 968.3 L380.5 866.1 L382.9 963.7 L385.4 1016.6 L387.9 938.4 L390.3 977.4 L392.8 1022.2 L395.4 965.6 L398 978 L400.5 935.6 L403.1 929.7 L405.6 955 L408.1 941.2 L410.6 977.3 L413.2 957.5 L415.7 982.3 L418.2 963.4 L420.7 1018.4 L423 905.9 L425.4 1010 L427.7 937.7 L430 1015.7 L432.5 929.2 L435 976.5 L437.5 1015.5 L440 849.9 L442.5 915.3 L445 954.4 L447.5 908.3 L450 916.2 L452.5 869.1 L455 863.3 L457.8 907.2 L460.6 887.8 L463.4 948.7 L466.2 974.3 L468.9 865.7 L471.5 918.6 L474.2 862.3 L476.9 922.6 L479.6 883.7 L482.2 915.4 L484.9 936.9 L488.6 873.3 L491.1 905.3 L493.6 888.7 L496.1 916.2 L498.6 901.9 L501.1 971.8 L503.8 874.5 L506.6 935.9 L509.3 871.9 L512.1 927 L514.8 939.4 L517.3 890.5 L519.8 895.5 L522.3 854.6 L524.6 877.7 L526.9 863.8 L529.2 884.2 L531.5 877.3 L533.8 899.5 L536.1 903.2 L537.8 837.1 L540.2 893.1 L542.6 853 L545 947.6 L547.4 919.4 L549.8 1009.3 L552.3 906.1 L554.8 969.4 L557.3 914.7 L559.8 963.2 L562.3 929 L564.8 991.8 L567.2 883.8 L569.7 797.2 L571.9 889.2 L574.1 837.9 L576.3 952.3 L578.5 979.3 L581 910.8 L583.5 952.1 L585.9 882.7 L588.4 946.4 L590.9 999.3 L593.1 927.8 L595.3 956.9 L597.5 852.5 L599.7 842.1 L602.4 920.7 L605.2 889.4 L607.9 977.1 L610.7 939.9 L613.4 1016.8 L615.7 912.6 L618 972 L620.3 873.8 L622.6 813.4 L625.4 946.5 L628.1 916.6 L630.9 1023 L633.7 914.9 L636.5 978.6 L639.3 926.7 L642.1 1000.5 L644.8 916.6 L647.6 987.8 L650.3 897 L653.1 959.1 L655.8 1028 L658.1 917.7 L660.3 1000.5 L662.6 932.3 L664.8 983.4 L667.1 1019.3 L669.6 911.2 L672 1007.8 L674.5 910.6 L677 1049.2 L679.1 931.7 L681.2 958.6 L683.3 815.9 L686.2 914.5 L689.1 911.6 L692 988.1 L694.7 918.7 L697.3 949.9 L700 989.3 L702.5 886.1 L705 923.2 L707.5 885.2 L710 938.5 L712.5 945.6 L715 857.1 L717.7 903.9 L720.5 867.9 L723.2 937.1 L726 932.5 L728.7 991.8 L731.5 920.3 L734.3 954.7 L737.1 895.3 L739.9 983.1 L742.5 826.1 L745.1 880.1 L747.8 836.6 L750.4 885.7 L751.9 819.6 L754.4 903.8 L756.9 876.6 L759.4 953.4 L761.9 919.5 L764.4 985.6 L766.8 905.2 L769.2 870.3 L771.6 855.8 L773.9 883.4 L776.3 835 L778.7 869.6 L781.1 814.7 L783.8 844.9 L786.6 831.7 L789.3 870.3 L792.1 854.2 L794.8 884.5 L797.3 866.9 L799.8 869.2 L802.3 857.1 L805.4 883.9 L808.5 903.2 L811.1 848.7 L813.8 870.9 L816.4 853 L819 980.6 L821.4 826.8 L823.9 872.1 L826.3 835.5 L828.7 865 L831.1 835.1 L833.6 855.5 L836 822.1 L838.5 858.3 L841.4 841 L844.3 846.9 L847.2 835.9 L850.3 862.3 L853.4 877 L855.6 849.3 L857.8 857.3 L860 827.2 L862.2 823.4 L864.7 854.8 L867.2 863.3 L869.7 828.4 L872.2 855.6 L874.6 833.7 L877.1 940.6 L879.6 846 L882.1 873.1 L884.6 845.2 L887.1 913.8 L889.6 949.4 L892.1 816.4 L894.6 860.4 L897.1 820 L899.6 844.1 L902.1 831.8 L904.6 854.1 L907.1 860.8 L910.1 809.7 L912.8 894.6 L915.5 847.9 L918.1 935.5 L920.8 958.1 L923.3 859.5 L925.8 927.5 L928.3 890.7 L930.8 941 L933.3 1019.2 L935.8 910.3 L938.3 923.9 L940.8 822.1 L943.7 933 L946.6 883.8 L949.5 996.8 L951.7 910.4 L954 963.5 L956.2 995.6 L958.3 839.7 L960.4 926.1 L962.5 930.7 L964.9 893.8 L967.3 926 L969.8 862.9 L972.2 894.1 L974.6 857.1 L977 840.9 L979.2 923.2 L981.8 857.9 L984.4 897.8 L987 862.3 L989.5 921.6 L992.1 866.8 L994.7 904.7 L997.3 853.4 L999.9 979.3 L1002.4 940.7 L1004.9 952.4 L1007.4 941 L1009.9 948.8 L1012.4 938.2 L1014.9 953.9 L1017.4 971.8 L1020.1 906.8 L1022.8 940.5 L1025.5 874.3 L1028.2 897 L1030.9 850.5 L1033.6 833.4 L1036.1 898.6 L1038.6 843.3 L1041.1 908.3 L1043.6 881.3 L1046.1 958.3 L1048.6 925.4 L1051.1 961.3 L1053.6 990.6 L1056.1 900.6 L1058.5 985.9 L1061 934.3 L1063.5 1010.5 L1065.8 896.9 L1068 914.9 L1070.3 777.2 L1073 891.7 L1075.7 865.8 L1078.3 961.2 L1081 980.6 L1083.5 883.1 L1086 781 L1088.9 904.1 L1091.8 875.6 L1094.7 990.6 L1097.2 933.5 L1099.7 967.2 L1102.2 894.4 L1104.7 914.5 L1107.2 868.3 L1109.7 934 L1112.2 927.6 L1114.7 955.6 L1117.2 1013 L1119.7 931 L1122.2 951.6 L1124.7 907.1 L1127.2 880.8 L1129.5 943.4 L1131.8 927.4 L1134.1 968.8 L1136.4 1030.5 L1139 929.8 L1141.5 890.4 L1144.1 846.2 L1146.7 882.9 L1149.2 859.3 L1151.8 878.7 L1154.4 854.7 L1157 891.8 L1159.5 861.7 L1162.1 842.1 L1164.6 888.3 L1167.1 855.6 L1169.6 857.1 L1172.1 833.4 L1174.6 874.5 L1177.7 826.3 L1180.8 815.9 L1183.3 858.7 L1185.8 852.9 L1188.3 904.5 L1190.8 862.2 L1193.3 882 L1195.8 846.8 L1198.3 862.6 L1200.8 828.4 L1203.3 890.8 L1205.8 847.4 L1208.3 873.1 L1210.8 842 L1213.3 908.2 L1216.2 875.7 L1219.2 915.5 L1222.2 977.2 L1224.5 894.4 L1226.7 914.1 L1229 849.4 L1231.2 820.8 L1234 961.3 L1236.7 1099.6 L1239.2 882.4 L1241.8 981.2 L1244.3 883.8 L1246.9 967.7 L1249.4 1027.8 L1252.4 963.1 L1256.6 1001.3 L1259.5 903.1 L1262.4 871.4 L1265.2 964.2 L1268.1 986.8 L1270.5 884 L1272.9 952.8 L1275.3 880.6 L1277.7 974.2 L1280.4 847.3 L1283.2 911.3 L1285.9 842.6 L1288.6 942.2 L1291.3 884.2 L1294.1 912.6 L1296.8 861.3 L1299.6 882.8 L1302.3 832.1 L1304.4 847.8 L1306.5 852 L1308.6 865.7 L1311.5 845.7 L1314.4 850.6 L1317.3 834.6 L1319.8 852.1 L1322.3 843.3 L1324.8 865 L1327.3 875.7 L1330.4 846.1 L1333.5 830.8 L1335.6 842.5 L1337.7 837.9 L1339.8 854.5 L1342.2 822 L1344.6 842.4 L1347 812.3 L1349.4 841.6 L1351.8 813.3 L1354.2 935.6 L1356.8 837 L1359.3 856.8 L1361.9 837.1 L1364.5 852 L1367.1 825.1 L1369.6 858.8 L1372.2 813.4 L1374.7 878.2 L1377.2 836.7 L1379.7 868.8 L1382.2 850.4 L1384.7 865 L1387.2 788.4 L1389.6 929.6 L1392 1010.3 L1394.5 920 L1397 971.3 L1399.6 857.2 L1402.1 898.4 L1404.6 830.8 L1407.3 911.5 L1410.1 887.4 L1412.8 976 L1415.2 898.4 L1417.6 966 L1420 872.3 L1422.4 1022.4 L1424.8 929.6 L1427.2 972.6 L1429.7 917.6 L1432.1 1017 L1435.7 958.3 L1438.1 981.3 L1440.5 995.3 L1443.3 975.2 L1446.2 978.1 L1449 964.3 L1451.4 981 L1453.8 971.1 L1456.2 1005.5 L1459.1 951 L1462 918.1 L1464.8 950.4 L1467.5 944.8 L1470.3 969.6 L1473.1 1001.3 L1475.8 922.9 L1478.6 1004.4 L1480.9 949.9 L1483.2 979.9 L1485.4 910.7 L1487.7 931.6 L1490 875.7 L1490.7 961 L1493.1 877.6 L1495.5 946.3 L1497.9 887.7 L1500.3 945.6 L1502.8 890.3 L1505.2 950.9 L1507.6 903.3 L1510 1017.7 L1512.5 946.9 L1514.9 943.1 L1517.2 957.8 L1519.6 1000.2 L1522.2 926.9 L1524.8 931.7 L1527.4 863.3 L1528.1 956.2 L1530.5 889.2 L1532.9 931.4 L1535.3 891 L1537.7 977.3 L1540 914.1 L1542.3 973.3 L1544.7 916 L1547 965.3 L1549.3 899.2 L1551.6 1016.5 L1554.3 950.5 L1556.9 970.3 L1559.6 947.1 L1562.3 935.6 L1563.6 996 L1566.1 958.9 L1568.6 964 L1571.1 941.9 L1573.6 987.3 L1576.2 975 L1578.7 1023.7 L1581.5 959.5 L1584.2 972.2 L1587 918.3 L1589.8 915.7 L1590.8 981.5 L1593.1 903.5 L1595.4 974.8 L1597.6 891.3 L1599.9 973.1 L1602.2 1067.7 L1604.5 926.9 L1606.7 953.8 L1609 932.1 L1611.2 964.1 L1613.5 921.9 L1616.6 961.5 L1619.7 989.7 L1621.9 900.8 L1624.1 925.1 L1626.3 845.9 L1628.5 792.1 L1631 919.3 L1633.5 842.9 L1635.9 907.2 L1638.4 840.8 L1640.7 867.2 L1642.9 857.2 L1645.2 889.1 L1647.4 875.9 L1649.7 908.1 L1652.5 865.6 L1655.2 833.3 L1657.5 925.4 L1659.9 855.2 L1662.2 954.6 L1664.5 911.9 L1666.9 957.5 L1669.2 1048.8 L1671.9 882.7 L1674.6 825.8 L1677.2 915.3 L1679.8 882.1 L1682.4 985.1 L1685.1 891.5 L1687.7 946.5 L1690.4 885 L1693 945.5 L1695.7 969.4 L1698.2 916.4 L1700.7 924.9 L1703.3 841.9 L1705.8 871.2 L1708.3 835.8 L1711.4 871.4 L1714.5 895.7 L1717.5 838.3 L1719.9 848.2 L1722.2 848.1 L1724.6 860.3 L1727 863.2 L1729.5 833.5 L1732 827.1 L1736.2 845.8 L1738.7 829.4 L1741.2 824.6 L1743.7 841.6 L1746.2 831.3 L1748.7 865.8 L1751.2 851.5 L1753.7 862.4 L1756.2 875.8 L1759.3 843 L1762.4 823.4 L1764.9 859.3 L1767.4 830.2 L1769.9 943.1 L1772 851.5 L1774.1 866.9 L1776.2 848.3 L1778.9 865.2 L1781.7 855.9 L1784.4 868.3 L1787.2 858.6 L1789.9 883.3 L1792.3 848.9 L1794.7 870.5 L1797.1 849.3 L1799.5 871.3 L1801.9 873.3 L1804.7 839.7 L1807.4 817.2 L1809.9 840.9 L1812.4 853.3 L1815.5 825.9 L1818.6 810.9 L1821.1 867 L1823.6 834.2 L1826.1 863.1 L1828.6 940.6 L1831.1 880.9 L1833.6 900.7 L1836 834.9 L1838.5 873.6 L1841 813.4 L1843.5 875.2 L1846 831.3 L1848.5 919.6 L1851 894.7 L1853.5 963.1 L1856 877.9 L1858.5 933 L1861 873.9 L1863.5 920 L1866 943.1 L1868.5 841.5 L1871 814 L1874.1 867.2 L1877.2 885.7 L1880.2 835.9 L1882.6 886.5 L1885 873.3 L1887.3 894.6 L1889.7 941.9 L1892.2 872.6 L1894.7 899.2 L1897.2 825.9 L1900.9 888.2 L1903.1 848.2 L1905.3 872 L1907.5 839.5 L1909.7 910.7 L1912.4 876.4 L1915.1 907 L1917.8 872 L1920.5 909.7 L1923.2 875.4 L1925.9 991.8 L1928.8 845.6 L1931.7 871.4 L1934.6 833.4 L1936.7 860.2 L1938.8 863.7 L1940.9 885.7 L1943.8 858.4 L1946.7 849 L1949.6 822.1 L1952.1 848.4 L1954.6 836.6 L1957.1 887.8 L1959.6 869.4 L1962.1 899.5 L1964.6 867.7 L1967 868.9 L1969.5 829.4 L1972 825.9 L1975.8 883.3 L1978.9 842.7 L1982 818.4 L1984.5 879.2 L1987 849.8 L1989.5 912.9 L1992 948.1 L1996.2 946.9 L1998.3 867 L2000.4 890.4 L2002.5 825.9 L2005.3 881.9 L2008.1 861.8 L2010.9 911.6 L2013.7 926.9 L2016.2 841.3 L2018.7 885 L2021.2 863.8 L2023.7 877.5 L2026.2 895.7 L2028.7 840.6 L2031.2 862.8 L2033.7 798.4 L2036.2 856 L2038.7 887 L2041.8 848.8 L2044.9 825.9 L2048 870.7 L2051.1 884.5 L2053.6 839.4 L2056.1 874.3 L2058.6 847.6 L2061.1 860.9 L2063.6 874.5 L2067.4 798.4 L2070.1 878.3 L2072.7 843.5 L2075.4 867.2 L2078.1 841.9 L2080.8 946.6 L2083.4 905.4 L2086.1 973.1 L2088.6 907.6 L2091.1 938.8 L2093.6 897.7 L2096.1 1011.7 L2098.6 923.1 L2101.1 955.3 L2103.5 846.6 L2106 900.4 L2108.5 823.4 L2110.6 910.7 L2112.7 896.4 L2114.8 985.5 L2117.6 924.2 L2120.4 982.8 L2123.2 877.9 L2126 1000.5 L2128.5 905.3 L2131 904.2 L2133.5 815.9 L2136.6 975.4 L2139.7 1016.7 L2142.2 882.3 L2144.7 822.1 L2147.5 971.2 L2150.3 913 L2153.1 990.3 L2155.9 1088.8 L2158.4 937.8 L2160.9 962.2 L2163.4 910.7 L2165.7 985.2 L2168.1 946.4 L2170.4 988.3 L2172.7 1058.6 L2175.1 973.4 L2177.5 987.1 L2179.8 976.1 L2182.2 986.7 L2184.6 969.3 L2186.9 942.6 L2189.2 950.4 L2191.6 920.9 L2193.9 911.9 L2196.1 855.8"/>
<path class="s" stroke="#7e2f8e" d="M248.5 1521 L248.6 1400 L250.2 1380 L250.4 600 L251.6 550 L251.7 -60 L254 0 L255.5 420 L257.5 600 L260 700 L264 800 L268.1 891.2 L271 798.4 L273.9 821.4 L276.8 724.1 L279.6 801.2 L282.3 770 L285.1 843.9 L287.5 798.7 L289.9 813.3 L292.4 763.8 L294.8 784.5 L297.2 750.1 L299.8 814.2 L302.4 785.4 L305 899.5 L307.6 850 L310.2 921.9 L312.5 779.1 L314.9 676.2 L317.4 828.7 L319.9 785.7 L322.4 825.9 L324.9 764.4 L327.4 890.6 L329.9 795.4 L332.4 855.8 L334.9 805.3 L337.4 867.8 L339.9 945.1 L342.1 869.6 L344.2 863.7 L346.4 802.9 L348.7 861.6 L351 852.9 L353.4 892.8 L355.7 921.9 L358 824.3 L360.3 876.9 L362.6 800.2 L364.9 811.8 L367.2 705.4 L369.8 818.6 L372.4 771.4 L375.1 831 L377.7 800.9 L380.3 907.5 L382.9 824.6 L385.6 885.8 L388.2 942.3 L390.6 882.9 L393 901.7 L395.5 868.4 L397.9 885.2 L400.3 849 L402.9 889 L405.4 862.8 L407.9 896.4 L410.5 873.6 L413.1 895.4 L415.6 879.5 L418.1 902.3 L420.7 943.2 L423.2 852.3 L425.8 900.4 L428.3 857.9 L430.9 927.5 L433.2 814.5 L435.4 843.7 L437.7 809 L440 883.3 L442.5 832.3 L445 845.6 L447.5 818.6 L450 845.7 L452.5 786 L455 824 L457.5 771 L460 811.6 L462.5 780.5 L464.9 834.9 L467.4 815.5 L469.9 865.7 L472.4 878.3 L474.6 831 L476.8 835.5 L479 786.3 L481.2 776 L483.4 818.6 L485.7 849.6 L488.4 793.2 L491.1 764.8 L493.4 811.5 L495.8 776.2 L498.1 851.5 L500.4 821.3 L502.7 856.2 L505.1 821.1 L507.4 910.7 L509.9 825.7 L512.4 847.4 L514.8 782.5 L517.3 832.9 L519.8 787.4 L522.3 756 L524.6 784.2 L526.9 774.2 L529.2 795.9 L531.5 783.8 L533.8 798.8 L536.1 805.9 L537.8 761 L540.4 837.8 L543 785 L545.6 842.1 L548.1 811 L550.7 888 L553.3 847.1 L555.9 882.1 L558.5 931.9 L561.3 834.7 L564.1 860.8 L566.9 785.5 L569.7 739.2 L571.9 812.7 L574.1 794.5 L576.3 881.4 L578.5 883.3 L581.4 804.1 L584.3 822.9 L587.2 760.4 L590 884.9 L592.7 913.2 L595 848.7 L597.4 838.2 L599.7 784.1 L602.2 843 L604.7 810.9 L607.2 904.3 L609.7 838 L612.2 905.8 L614.7 936.9 L617.3 844.6 L620 847.7 L622.6 755.4 L625.4 852.9 L628.1 844.7 L630.9 928.2 L633.4 887.5 L635.9 906.7 L638.4 863.1 L640.9 853.4 L643.7 882.5 L646.5 871.9 L649.3 906 L652.1 933.2 L655 877.3 L657.9 902.5 L660.8 845.9 L663.3 886 L665.8 851.6 L668.3 899.7 L670.8 876.3 L673.3 896.9 L675.8 850 L678.3 966.9 L680.8 810 L683.3 757.9 L686.2 845 L689.1 805.8 L692 893.3 L694.7 831 L697.3 876.5 L700 878.3 L702.8 839.4 L705.5 818.4 L709.5 829.6 L713 768.5 L717 840.8 L721 829.6 L723.1 867.2 L725.3 840.1 L727.4 914.4 L729.9 837.6 L732.4 871.5 L734.9 852 L737.4 895.4 L739.9 918.2 L742.8 868.1 L745.7 854.6 L748.4 792.7 L751.1 736.1 L754.4 783.4 L756.8 780.8 L759.1 779.7 L762 857.5 L764.9 916.9 L767.4 777.7 L769.9 819.8 L772.4 773.2 L774.8 808.9 L777.3 772.6 L779.8 806 L782.3 724.8 L784.8 781.9 L787.3 769.6 L789.8 789.6 L792.3 774.6 L794.8 800.9 L797.3 761 L799.8 785 L802.3 772.1 L804.8 794.2 L807.3 840.8 L809.6 782.7 L812 797.8 L814.3 779.1 L816.7 796.8 L819 923.2 L821.6 760.4 L824.2 778.7 L826.8 765.4 L829.4 772.4 L832 765.6 L834.6 773.6 L837.2 782.2 L839.7 760.8 L842.2 738.6 L844.6 773.4 L847 763.2 L849.4 791.8 L851.8 777.2 L854.2 799.7 L858.4 746 L860.6 764 L862.8 759.7 L865 775.6 L867.2 776 L869.7 763.9 L872.2 767.4 L874.7 743.5 L878.4 820.9 L881.2 775.9 L884 792 L886.8 767.7 L889.6 830.9 L892.1 783.7 L894.6 799.6 L897.1 766.4 L899.6 782.1 L902.1 738.6 L905.2 755.8 L908.3 759.7 L910.8 739.5 L913.3 754.9 L915.8 745.7 L918.3 755.1 L920.8 880.8 L923.5 827 L926.3 871 L929 829.8 L931.8 865 L934.5 910.7 L936.6 821 L938.7 840.4 L940.8 764.1 L943.7 850.6 L946.6 817.6 L949.5 905.7 L952 784.4 L954.5 751.6 L957.2 835.6 L960 858.3 L962.9 793.7 L965.8 809.2 L968.7 737.9 L971.2 780.7 L973.7 759 L976.2 814.2 L978.7 830.9 L980.5 761 L982.9 818 L985.4 762.2 L987.8 839 L990.2 818.6 L992.6 854.7 L995 814.6 L997.5 839.6 L999.9 923.2 L1002.6 800.1 L1005.3 836.4 L1008 809 L1010.7 849.4 L1013.4 815 L1016.1 885.8 L1018.4 837.7 L1020.8 865 L1023.1 799.9 L1025.4 838.2 L1027.7 758.7 L1030.1 808.9 L1032.4 758.5 L1035.3 804.9 L1038.2 808 L1041.1 855.8 L1043.8 797.7 L1046.4 833.8 L1049 794.7 L1051.7 853.9 L1054.3 778.1 L1057 849 L1059.6 788.3 L1062.3 894.5 L1065 813.4 L1067.6 806.3 L1070.3 719.2 L1073 802.9 L1075.7 763.4 L1078.3 850.5 L1081 889.5 L1083.5 793.9 L1086 723 L1088.9 823.1 L1091.8 795.4 L1094.7 897 L1097.2 848.6 L1099.7 850.3 L1102.2 780.4 L1104.7 831.6 L1107.2 771 L1110 836.5 L1112.8 822.2 L1115.6 868 L1118.4 908.2 L1120.9 855.6 L1123.4 861.9 L1125.9 805.5 L1128.4 799.7 L1130.9 869.9 L1133.4 845.8 L1135.9 910.7 L1138.5 825.8 L1141.2 856 L1143.8 805.2 L1146.4 868.1 L1149.1 796.2 L1151.7 813.7 L1154.3 780.3 L1157 815.3 L1159.6 751 L1162.1 774.1 L1164.6 765.9 L1167.1 791.1 L1169.6 797.2 L1172.6 742.3 L1175.3 806.1 L1178.1 755.3 L1180.8 738.6 L1183.3 802.4 L1185.8 766.5 L1188.3 836.6 L1190.8 815 L1193.3 862.1 L1195.8 810.2 L1198.3 809.9 L1200.8 748.6 L1203.9 783.5 L1207 807.2 L1209.1 785.6 L1211.2 792.4 L1213.3 766 L1215.5 810.1 L1217.8 803.7 L1220 863.2 L1222.8 809.6 L1225.6 825.8 L1228.4 781.7 L1231.2 762.8 L1233.3 867.5 L1235.4 813.8 L1237.5 1005.5 L1240.3 833.2 L1243.1 900.9 L1245.9 813.7 L1248.7 939.3 L1252.4 860.8 L1254.9 881.5 L1257.4 874 L1259.9 913.1 L1262.4 813.4 L1264.9 870.1 L1267.4 853.3 L1269.9 910.6 L1272.4 730.9 L1274.9 789.2 L1277.4 736.9 L1279.9 800.1 L1282.4 744.8 L1284.9 795.1 L1287.4 741.5 L1289.9 814.6 L1292.4 773.8 L1294.8 789.9 L1297.3 754 L1299.8 743.5 L1301.9 773.2 L1304 770.2 L1306.1 798.4 L1308.9 767.1 L1311.7 774.1 L1314.5 751.2 L1317.3 741 L1319.8 774.3 L1322.3 763.3 L1324.8 796.3 L1327.3 805.8 L1329.8 776.8 L1332.3 792.6 L1334.8 754.7 L1337.3 751 L1340.3 790.9 L1342.7 759.4 L1345.1 789.4 L1347.5 757 L1349.9 784.3 L1352.3 765 L1354.7 879.5 L1357.2 784.4 L1359.7 793.5 L1362.2 787.8 L1364.7 796.6 L1367.2 783.3 L1369.7 793.7 L1372.2 781.1 L1374.7 780.9 L1378.4 808.3 L1380.6 764.7 L1382.8 794.7 L1385 757.3 L1387.2 730.4 L1390.1 853.7 L1392.9 950.6 L1395.5 831.8 L1398.1 883.5 L1400.7 806.5 L1403.3 856.5 L1405.9 761 L1408.6 832.8 L1411.3 805.7 L1414 872.6 L1416.7 826.2 L1419.4 887.2 L1422.1 943.1 L1424.6 866.4 L1427.1 917 L1429.6 879.7 L1432.1 895.4 L1434.6 863.3 L1437.7 895.7 L1440.8 909.4 L1443.7 886.1 L1446.6 885.5 L1449.5 868.2 L1451.7 883.4 L1453.9 876.4 L1456.1 909.6 L1458.3 910.6 L1461.5 825.8 L1463.9 872.7 L1466.2 834.7 L1468.6 879.9 L1470.9 859.9 L1473.3 945.6 L1476 838.2 L1478.7 945.6 L1481 854.4 L1483.2 872.3 L1485.5 828 L1487.7 832 L1490 778.4 L1492.5 821.1 L1495 795.6 L1497.5 873.9 L1499.9 833.3 L1502.4 885.5 L1504.9 908.1 L1507.4 869.9 L1509.9 873.2 L1512.4 846.9 L1514.9 840.8 L1517.6 898.7 L1520.4 849.5 L1523.1 886.8 L1525.9 859.6 L1528.6 761 L1530.8 817.7 L1533 814.7 L1535.2 884.3 L1537.4 885.7 L1539.9 856.7 L1542.4 865.4 L1544.9 830.6 L1547.4 848.9 L1549.9 823.3 L1552.4 908.1 L1555.1 872.9 L1557.7 883.3 L1560.4 869.1 L1563.1 879.9 L1565.8 861 L1568.4 878.1 L1571.1 855.8 L1574 876.2 L1576.9 866.3 L1579.8 940.6 L1582.3 863.5 L1584.8 884.4 L1587.3 855.8 L1590 883.2 L1592.7 858.2 L1595.4 883.5 L1598.1 860.4 L1600.8 885.1 L1603.5 985.5 L1606.2 837.8 L1609 873.1 L1611.7 859.7 L1614.5 892 L1617.2 834.6 L1619.7 899.4 L1621.9 818.5 L1624.1 852.8 L1626.3 762.7 L1628.5 734.1 L1631 858.9 L1633.5 765.4 L1635.9 856.6 L1638.4 797.7 L1640.9 749.7 L1644.7 822.1 L1647.2 785.3 L1649.7 808.7 L1652.2 758.7 L1654.7 756 L1657.4 846.9 L1660.2 777.1 L1662.9 890.1 L1665.7 828.9 L1668.4 975.5 L1671.5 821.5 L1674.6 767.8 L1677.1 873.3 L1679.6 804.5 L1682.1 869.9 L1684.6 951.8 L1687.4 841.3 L1690.2 875.8 L1693 818.3 L1695.8 914.4 L1698.2 841.4 L1700.5 857.8 L1702.9 789.7 L1705.2 789.6 L1707.6 765.9 L1710 795.9 L1712.4 765.1 L1714.8 786.3 L1717.2 747.5 L1719.6 792 L1722 814.6 L1724.3 765.8 L1726.5 786.2 L1728.8 747.8 L1731 767.1 L1733.3 742.2 L1737.5 763.5 L1740 742.8 L1742.5 736.1 L1745 773 L1747.5 767.9 L1750 795.9 L1752.5 778.1 L1755 777 L1757.5 750.3 L1760 746 L1762.5 789.6 L1765 772.9 L1767.4 800 L1769.9 825.9 L1772.2 777.9 L1774.5 791.6 L1776.8 772.3 L1779.1 797.8 L1781.4 764.5 L1783.7 754.8 L1786.8 792.5 L1789.9 820.9 L1792.7 772.7 L1795.5 799.2 L1798.3 775.9 L1801.1 810.9 L1803.6 764.6 L1806.1 779.7 L1808.6 732.3 L1812.4 783.4 L1815.3 739.7 L1818.2 758.3 L1821.1 705.5 L1823.3 784.6 L1825.6 762.2 L1827.8 852.1 L1830.4 789.8 L1833.1 803.4 L1835.7 758.2 L1838.4 796.2 L1841 748.5 L1843.5 807.5 L1846 774 L1848.5 810.7 L1851 787.9 L1853.5 877 L1856.2 792.8 L1859 832.9 L1861.7 783.2 L1864.5 827.3 L1867.2 833.3 L1871 756 L1873.5 816 L1876 782.4 L1878.5 812.8 L1881 761 L1883.5 784.5 L1886 789.2 L1888.5 812.1 L1891.6 755.1 L1894.7 728.6 L1897.2 765.2 L1899.7 750.5 L1902.2 782.5 L1904.7 764.9 L1907.2 803.4 L1909.9 768.2 L1912.5 796.6 L1915.2 752.6 L1917.9 783.9 L1920.6 760.9 L1923.2 796.3 L1925.9 897 L1928.8 764.6 L1931.7 801.7 L1934.6 761 L1937.1 789.1 L1939.6 787.3 L1942.1 818.4 L1944.6 778.5 L1947.1 790.5 L1949.6 746.1 L1952.1 743.5 L1955 814.5 L1957.9 795.8 L1960.8 865.8 L1963.4 788.9 L1966.1 809.8 L1968.7 777.5 L1971.4 789.1 L1974 743.5 L1976.5 785.9 L1979.2 760.6 L1981.8 765.3 L1984.5 725.4 L1987 798.8 L1989.5 768.6 L1992 843.3 L1994.8 780.6 L1997.5 842.1 L2000.3 789.8 L2003.1 802.3 L2005.9 740.1 L2008.7 719.2 L2011.2 798.6 L2013.7 875.7 L2016.6 781.9 L2019.5 799 L2022.4 725.4 L2024.9 788.3 L2027.4 834.6 L2029.5 783.4 L2031.6 778.7 L2033.7 740.4 L2036.6 774.5 L2039.5 774.9 L2042.4 812.1 L2045.3 770 L2048.2 799.4 L2051.1 803.4 L2053.6 729.8 L2056.1 756.1 L2058.6 736.8 L2061.1 771.4 L2063.6 744.4 L2066.1 719.8 L2068.7 797.8 L2071.3 765.2 L2073.9 790.7 L2076.5 764.6 L2079.1 801.5 L2081.8 762.4 L2084.4 784.9 L2087 778 L2089.6 789.7 L2092.2 848.2 L2094.8 944.4 L2097.5 845.6 L2100.3 889.9 L2103 823.8 L2105.8 843.4 L2108.5 738.5 L2111 843.2 L2113.5 806 L2116 886.7 L2118.5 851.1 L2121 931.2 L2123.5 876 L2126 975.6 L2128.5 875.5 L2131 893.6 L2133.5 757.9 L2136 897 L2138.5 964.3 L2141.6 848.9 L2144.7 764.1 L2147.2 875.8 L2149.7 860.9 L2152.2 928.6 L2154.7 1052.4 L2157.6 896.4 L2160.5 944.9 L2163.4 852.7 L2165.9 926.4 L2168.4 892.8 L2170.9 932.8 L2173.4 1018 L2176.2 913.9 L2179 943.3 L2181.8 891 L2184.6 869.5 L2186.8 853.1 L2189.1 863.5 L2191.3 843 L2193.6 839.6 L2196.1 778.4"/>
<path class="s" stroke="#77ac30" d="M248.4 1521 L248.5 1400 L249.9 1385 L250.1 1000 L250.3 600 L251.4 560 L251.5 30 L254.9 30 L255.7 280 L257 415 L258 482 L259 516 L262 545 L264.3 580 L265.2 650 L268.1 802.6 L270.4 695.4 L272.6 745 L274.9 635.9 L277.4 699.3 L280 692.9 L282.6 765.2 L285.1 770.1 L287.4 729 L289.8 747.9 L292.1 683 L294.4 723.6 L296.8 685.7 L299.1 652 L301.9 750.5 L304.6 706.2 L307.4 769.1 L310.2 843.4 L312.5 695 L314.9 618.2 L317.1 732.5 L319.2 705.6 L321.4 736.7 L324 713.5 L326.6 728 L329.2 705.8 L331.8 711.8 L334.4 681 L337.1 789.4 L339.9 862.9 L342.1 795.7 L344.2 809.8 L346.4 744.9 L349.8 832.3 L352.3 798.6 L354.8 777 L357.6 805.6 L360.3 803.4 L363.1 846.2 L367.2 647.4 L369.4 652.5 L371.6 658.3 L373.9 661.7 L376.1 667.7 L378.5 815.1 L380.9 766.6 L383.4 812.2 L385.8 785 L388.2 865.7 L390.6 789.3 L393 826.5 L395.5 762 L397.9 794.1 L400.3 743.6 L402.6 745.1 L405 748.3 L407.3 746.8 L409.6 753.1 L412.4 787.7 L415.1 780.5 L417.9 817.3 L420.7 839.7 L423.2 780.3 L425.6 783.7 L428.1 740.8 L431.1 798.5 L434.1 720.4 L437.1 795.1 L440 830.9 L442.7 764.4 L445.4 811 L448.1 701.4 L450.8 770.5 L453.5 715.9 L456.2 668.7 L458.9 726.4 L461.6 715.6 L464.3 768.5 L467 723.6 L469.7 781.7 L472.4 800.9 L474.9 677.4 L477.3 730.9 L479.8 688.7 L482.2 730.4 L484.6 690.9 L487.1 732.3 L489.5 692.6 L492 722.4 L494.4 662.5 L497 741.3 L499.6 711.4 L502.2 770.7 L504.8 726.8 L507.4 854.6 L509.9 737.1 L512.3 785.2 L514.8 720.4 L517.3 688.7 L519.5 714 L521.7 701.5 L523.9 730.7 L526.1 737.3 L528.6 703.8 L531.1 674.9 L534.2 709.1 L537.3 719.8 L539.8 701.2 L542.3 711.7 L544.8 663.7 L547.3 758.4 L549.8 703.7 L552.3 775.2 L554.8 840.9 L557.3 751.9 L559.8 839.1 L562.2 767.3 L564.7 828.5 L567.2 853.3 L569.7 681.2 L572.2 736.7 L574.7 733.3 L577.2 784.1 L579.7 805.9 L582.2 752 L584.7 763.8 L587.2 702.4 L590 807.3 L592.7 842.1 L595 774.5 L597.4 792.2 L599.7 726.1 L602.2 758.3 L604.7 754.4 L607.2 802.6 L609.7 774.9 L612.2 805.5 L614.7 833.4 L617.3 757.2 L620 778.4 L622.6 697.4 L625.4 763 L628.1 740.7 L630.9 814.7 L633.8 773.5 L636.7 789.8 L639.6 747.3 L642.5 785.2 L645.4 783.8 L648.3 830.9 L651.6 708.6 L653.9 770.4 L656.2 735.4 L658.5 807.7 L660.8 825.9 L663.3 760.2 L665.8 785.1 L668.3 708.6 L671.2 783.5 L674.1 767.1 L677 872 L679.1 763.3 L681.2 785.9 L683.3 699.9 L686.2 761.9 L689.1 749.8 L692 810.9 L694.3 718 L696.6 765.3 L698.9 708.8 L701.2 768.5 L705.5 711.1 L708 767.5 L710.5 738.3 L713 781.2 L715.5 711.9 L718 666.2 L720.4 771.9 L722.7 727.2 L725 784.9 L727.4 864.5 L729.9 786.3 L732.4 824.3 L734.9 785.8 L737.4 828.2 L739.9 884.5 L742.4 749.5 L744.9 669.9 L748 703 L751.1 709.8 L753.8 690 L756.4 700.2 L759.1 647.5 L761.2 704 L763.3 679.4 L765.4 854.6 L767.8 675.9 L770.2 693.4 L772.5 673.4 L774.9 703.2 L777.3 661.2 L781.1 699.9 L784.3 660 L786.9 683 L789.5 675.5 L792.2 713.7 L794.8 714.8 L797.9 688.4 L801 673.7 L803.5 710.1 L806 731 L808.1 692.3 L810.2 703.7 L812.3 678.7 L814.8 704.2 L817.3 682.1 L819.8 855.8 L822.3 682.2 L824.8 664.9 L827.5 700.4 L830.3 674.2 L833 695.1 L835.8 665.8 L838.5 650 L842.2 707.3 L844.7 674 L847.2 660 L849.7 690.3 L852.2 696.8 L854.7 727.3 L857.7 660 L860.1 701.1 L862.5 680.1 L864.9 699.3 L867.3 671.7 L869.7 671.2 L873.4 718.6 L875.9 687.4 L878.4 693.3 L880.9 653.7 L883.8 698.1 L886.7 697.3 L889.6 745.5 L892.1 701.9 L894.6 719.4 L897.1 674.3 L899.6 705.9 L902.1 663.7 L904.6 679.2 L907.1 679.9 L909.1 662.4 L911.4 694.5 L913.7 664.8 L916 727.5 L918.3 655 L921.6 808.4 L924 726.2 L926.3 785 L928.7 748.2 L931.1 780.5 L933.4 734.2 L935.8 828.4 L938.3 736.4 L940.8 706.1 L943.7 745.7 L946.6 738.3 L949.5 798.4 L952 727 L954.5 693.6 L956.7 748.1 L959 746.6 L961.2 782.2 L963.7 717.2 L966.2 736.2 L968.7 679.9 L971.2 727.6 L973.7 709.9 L976.2 746 L978.7 749.8 L982.4 671.2 L984.7 754.8 L987 719.2 L989.3 747.7 L991.6 716.3 L993.9 752.9 L996.2 699.9 L999.9 834.6 L1002.6 764.6 L1005.4 778.3 L1008.1 769.4 L1010.9 779.4 L1013.6 763.5 L1016.1 782.3 L1018.6 795.9 L1021.3 749.8 L1023.9 755.4 L1026.6 693.7 L1029.5 740.7 L1032.4 678.7 L1035.3 749.6 L1038.2 746.8 L1041.1 795.9 L1045.3 663.7 L1048 727.4 L1050.6 684.5 L1053.3 787.7 L1055.9 756.4 L1058.6 818.4 L1060.9 750.9 L1063.3 775.3 L1065.6 692.7 L1068 744.1 L1070.3 661.2 L1073 741.4 L1075.7 726.5 L1078.3 787 L1081 812.9 L1083.5 723.5 L1086 665 L1088.5 739.3 L1091 738.9 L1093.5 814.7 L1096 742.8 L1098.5 774.1 L1101 707 L1103.5 738.1 L1106 674.9 L1108.5 751.4 L1111 714.1 L1113.4 768 L1115.9 760 L1118.4 819.6 L1120.9 766.5 L1123.4 791.7 L1125.9 734.4 L1128.4 755.2 L1130.9 694.9 L1133.4 770.3 L1135.9 802.2 L1138.6 756 L1141.3 768.6 L1144 711.9 L1146.7 744.3 L1149.4 705.9 L1152.1 678.7 L1154.2 721.1 L1156.3 684.3 L1158.4 671.2 L1161.2 705.8 L1164 695.3 L1166.8 718.2 L1169.6 724.8 L1172.3 706.9 L1175.1 711.8 L1177.8 687.5 L1180.6 698.2 L1183.3 668.7 L1186.2 765.5 L1189.1 732.5 L1192 828.4 L1194.5 737.8 L1197 681.2 L1199.2 695.9 L1201.4 695.5 L1203.6 709.4 L1205.8 714.8 L1208.9 694 L1212 662.5 L1214.2 747.4 L1216.5 681.7 L1218.7 664.1 L1221.2 751.9 L1223.7 723.2 L1226.2 766.6 L1228.7 723.7 L1231.2 704.8 L1233.3 773.6 L1235.4 757.3 L1237.5 910.6 L1240 755.3 L1242.5 787.5 L1244.9 749.4 L1247.4 779.9 L1249.9 744.7 L1252.4 792.3 L1254.9 748 L1257.4 749 L1259.9 746.5 L1262.4 750.1 L1264.9 711 L1267.4 728.4 L1269.9 815.8 L1272.6 710.9 L1275.4 723.3 L1278.1 691.6 L1280.9 729.7 L1283.6 677.4 L1286.2 707.2 L1288.9 688.7 L1291.5 700.7 L1294.2 687.5 L1296.8 634.9 L1299.1 710.5 L1301.4 688.2 L1303.8 714 L1306.1 737.2 L1308.6 703.9 L1311.1 719.2 L1313.6 680.1 L1316.1 668.6 L1319.2 695.4 L1322.3 713.5 L1325.3 678.6 L1327.8 710.4 L1330.3 704.5 L1332.8 736 L1335.3 702.6 L1337.8 720.6 L1340.3 678.6 L1342.8 659.9 L1345.2 728.4 L1347.6 682.9 L1349.9 773.1 L1352.3 728.1 L1354.7 837 L1358.5 693.6 L1361.4 755 L1364.3 735.5 L1367.2 795.9 L1370.2 651.2 L1372.6 734.1 L1375.1 699.2 L1377.5 741.4 L1379.9 702 L1382.3 766.5 L1384.8 688.4 L1387.2 672.4 L1390.3 785.3 L1393.4 898.2 L1395.9 763 L1398.4 768.4 L1400.9 697.9 L1403.4 652.4 L1406.3 748.8 L1409.2 730.8 L1412.1 798.4 L1414.9 745.7 L1417.7 782.9 L1420.5 749.6 L1423.3 862 L1425.6 764.7 L1427.8 786.5 L1430.1 766.7 L1432.3 789.1 L1434.6 743.5 L1437.1 781.5 L1439.6 793.4 L1442.1 777 L1444.5 785.8 L1447 768.7 L1449.5 765.9 L1451.7 782.8 L1453.9 784.5 L1456.1 807.3 L1458.3 813.3 L1461.2 731.7 L1464 682.4 L1466.7 779.3 L1469.3 755.7 L1472 848.3 L1474.2 758.7 L1476.5 801.5 L1478.7 850.8 L1480.8 736.2 L1482.9 780.1 L1485 673.6 L1487.8 745.2 L1490.6 718.7 L1493.4 770.8 L1496.2 699.8 L1499.1 773.5 L1502 766.9 L1504.9 823.3 L1507.4 765.8 L1509.9 775.8 L1512.4 719.8 L1514.5 747.3 L1516.6 744.6 L1518.7 769.7 L1521.3 724.4 L1523.8 752.4 L1526.4 726.2 L1529 766 L1531.5 735.6 L1534.1 621.7 L1536.3 766.9 L1538.6 795.9 L1541.1 757.2 L1543.6 758.2 L1546.1 719.8 L1549 764.3 L1551.9 765.1 L1554.8 805.8 L1557.3 783.7 L1559.8 795.1 L1562.3 774.2 L1564.8 789.4 L1567.3 756.7 L1569.8 774.5 L1572.3 753.5 L1574.8 803.8 L1577.3 787.2 L1579.8 845.8 L1582.3 786.9 L1584.8 762.2 L1587.3 801.1 L1589.8 787.6 L1592.3 830.8 L1595.1 785.5 L1597.9 811.8 L1600.7 788.4 L1603.5 885.7 L1606 765.2 L1608.5 812.3 L1611 711 L1613.9 754.9 L1616.8 740.7 L1619.7 782.1 L1621.9 724.5 L1624.1 750.8 L1626.3 702.9 L1628.5 676.1 L1631 749.2 L1633.5 695.1 L1635.9 729.9 L1638.4 688.3 L1640.9 666.1 L1644.7 734.7 L1647.2 712.9 L1649.7 730.6 L1652.2 701 L1654.6 713.5 L1657.1 699.8 L1659.6 678.6 L1661.8 793.1 L1664 742.6 L1666.2 804.9 L1668.4 894.4 L1671.5 745.7 L1674.6 709.8 L1677.1 809.8 L1679.6 745.3 L1682.1 814.8 L1684.6 883.2 L1688.3 703.6 L1690.5 758.4 L1692.7 737.6 L1694.9 804.4 L1697.1 843.3 L1699.6 750.4 L1702.1 688.6 L1704.6 757.2 L1707 692.2 L1709.5 745.6 L1712 674.9 L1714.5 719.4 L1717 694.7 L1719.5 746 L1722 759.7 L1724.2 712.9 L1726.4 734.9 L1728.6 683.3 L1730.8 658.6 L1733.4 693.3 L1736 683.3 L1738.6 701.5 L1741.2 661.2 L1743.4 697 L1745.6 686.8 L1747.8 711.6 L1750 723.6 L1752.5 698.4 L1755 706.2 L1757.5 679.7 L1760 678.7 L1762.4 719.8 L1764.9 691.9 L1767.4 698.2 L1769.9 676.2 L1772.4 714.8 L1774.9 693.8 L1777.4 711.3 L1779.9 686.2 L1782.4 694.6 L1784.9 672.4 L1788 703.9 L1791.1 743.5 L1793.6 698 L1796.1 713.2 L1798.6 689.3 L1801.1 695.3 L1803.6 661.2 L1805.7 701.4 L1807.8 695.1 L1809.9 722.3 L1812.7 689.9 L1815.5 705.5 L1818.3 676.3 L1821.1 647.5 L1824.2 727.5 L1827.3 748.5 L1829.8 707 L1832.3 727.3 L1834.8 698.4 L1837.3 706.4 L1839.8 676.3 L1842.3 664.9 L1845.1 714.6 L1847.9 675.5 L1850.7 707.1 L1853.5 807.1 L1856 703.3 L1858.5 730.3 L1861 692.7 L1863.5 717.4 L1866 731 L1869.7 657.5 L1871.9 677.8 L1874.1 675.5 L1876.3 704.6 L1878.5 704.8 L1881 681.6 L1883.5 702 L1886 674.4 L1888.4 684.6 L1890.9 671.6 L1893.4 679.4 L1895.9 655 L1898.4 718.6 L1900.7 702.9 L1902.9 709.7 L1905.2 690.7 L1907.4 697.2 L1909.7 686.2 L1912.4 713.2 L1915.1 702.1 L1917.8 728.6 L1920.5 713.1 L1923.2 743.8 L1925.9 805.9 L1928.4 702 L1930.9 722.4 L1933.4 700.4 L1935.9 648.7 L1938.4 733.4 L1940.9 754.7 L1943.4 712.5 L1945.8 738.1 L1948.3 698.1 L1950.8 678.7 L1953.3 753.1 L1955.8 725.5 L1958.3 757.7 L1960.8 822.1 L1963.3 716.5 L1965.8 726.8 L1968.3 672.4 L1971.4 721.5 L1974.5 733.5 L1977 708.2 L1979.5 711.4 L1982 685.7 L1984.5 667.4 L1988.3 774.7 L1990.6 721.4 L1992.9 744.6 L1995.2 712.2 L1997.5 763.5 L2000.3 709 L2003.1 742.7 L2005.9 685.2 L2008.7 661.2 L2011.2 735.4 L2013.7 818.4 L2016.6 729.8 L2019.5 753.3 L2022.4 667.4 L2024.9 730.9 L2027.4 777.2 L2029.5 714.4 L2031.6 728.4 L2033.7 682.4 L2036.6 726.4 L2039.5 708.3 L2042.4 752.2 L2044.9 701.1 L2047.4 717.7 L2049.9 707.3 L2052.4 731.9 L2054.9 737.3 L2056.6 658.7 L2059.5 686.8 L2062.4 687.4 L2065.5 685.2 L2068.6 654.9 L2071.5 699 L2074.4 677.4 L2077.3 667.4 L2079.5 731.1 L2081.7 696.5 L2083.9 740.5 L2086.1 696.1 L2089 737.5 L2091.9 758.8 L2094.8 869.5 L2097.3 771.9 L2099.8 830.8 L2102.3 729.4 L2104.8 676.2 L2107.3 787.2 L2109.8 686.6 L2112.3 776.5 L2114.8 640 L2117.6 794.4 L2120.4 763.2 L2123.2 860.5 L2126 911.9 L2128.5 808.6 L2131 836.6 L2133.5 699.9 L2136 820.4 L2138.5 906.9 L2141.6 789.8 L2144.7 706.1 L2147.6 856.6 L2150.5 813.6 L2153.4 998 L2155.9 834.9 L2158.4 879.1 L2160.9 814.1 L2163.4 794.7 L2165.9 866.1 L2168.4 839.1 L2170.9 873.6 L2173.4 946.9 L2176.3 815.8 L2179.2 821.7 L2182.1 733.5 L2184.7 755.5 L2187.3 745.9 L2190 770.2 L2192.6 772.2 L2196.1 690.6"/>
</g>
<text class="tk" text-anchor="middle" transform="translate(247.1 1657.2) scale(0.972 1)">0</text>
<text class="tk" text-anchor="middle" transform="translate(571.6 1657.2) scale(0.972 1)">100</text>
<text class="tk" text-anchor="middle" transform="translate(896.1 1657.2) scale(0.972 1)">200</text>
<text class="tk" text-anchor="middle" transform="translate(1220.6 1657.2) scale(0.972 1)">300</text>
<text class="tk" text-anchor="middle" transform="translate(1545.1 1657.2) scale(0.972 1)">400</text>
<text class="tk" text-anchor="middle" transform="translate(1869.6 1657.2) scale(0.972 1)">500</text>
<text class="tk" text-anchor="middle" transform="translate(2194.1 1657.2) scale(0.972 1)">600</text>
<text class="tk" text-anchor="end" transform="translate(220.6 1595) scale(0.972 1)">0</text>
<text class="tk" text-anchor="end" transform="translate(220.6 1340.5) scale(0.972 1)">100</text>
<text class="tk" text-anchor="end" transform="translate(220.6 1086) scale(0.972 1)">200</text>
<text class="tk" text-anchor="end" transform="translate(220.6 831.5) scale(0.972 1)">300</text>
<text class="tk" text-anchor="end" transform="translate(220.6 577) scale(0.972 1)">400</text>
<text class="tk" text-anchor="end" transform="translate(220.6 322.5) scale(0.972 1)">500</text>
<text class="tk" text-anchor="end" transform="translate(220.6 68) scale(0.972 1)">600</text>
<text class="lb" text-anchor="middle" transform="translate(1222.1 1762.5) scale(1.045 1)">time [sec]</text>
<text class="lb" text-anchor="middle" transform="translate(80.7 810.1) rotate(-90) scale(1.045 1)">T [°C]</text>
<rect x="1816" y="93" width="332" height="370" fill="#fff" stroke="#262626" stroke-width="4" shape-rendering="crispEdges"/>
<rect x="1834" y="130" width="179" height="13" fill="#0072bd" shape-rendering="crispEdges"/>
<text class="lg" x="2026.2" y="157">TC1</text>
<rect x="1834" y="201" width="179" height="13" fill="#d95319" shape-rendering="crispEdges"/>
<text class="lg" x="2026.2" y="228">TC2</text>
<rect x="1834" y="272" width="179" height="13" fill="#edb120" shape-rendering="crispEdges"/>
<text class="lg" x="2026.2" y="299">TC3</text>
<rect x="1834" y="343" width="179" height="13" fill="#7e2f8e" shape-rendering="crispEdges"/>
<text class="lg" x="2026.2" y="370">TC4</text>
<rect x="1834" y="414" width="179" height="13" fill="#77ac30" shape-rendering="crispEdges"/>
<text class="lg" x="2026.2" y="441">TC5</text>
</svg>
</body>
</html>
